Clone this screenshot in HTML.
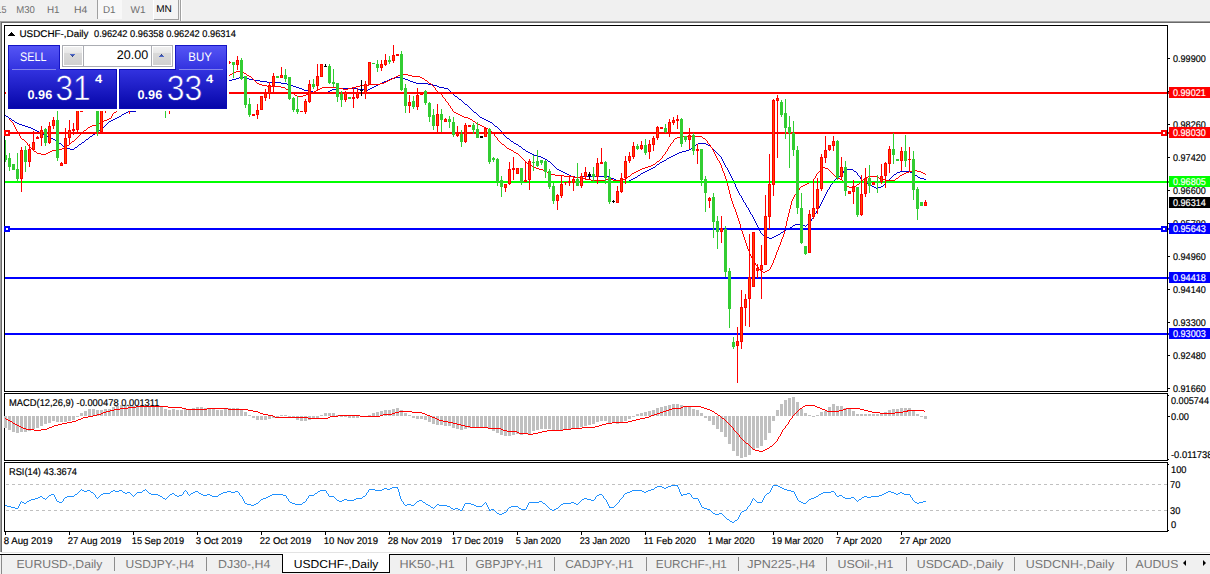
<!DOCTYPE html>
<html><head><meta charset="utf-8"><title>USDCHF-,Daily</title>
<style>
html,body{margin:0;padding:0;background:#fff;}
body{width:1210px;height:574px;position:relative;overflow:hidden;font-family:"Liberation Sans", sans-serif;}
svg{position:absolute;left:0;top:0;}
svg text{font-family:"Liberation Sans", sans-serif;text-rendering:geometricPrecision;}
#chart rect,#chart polyline,#chart line,#chart path{shape-rendering:crispEdges;}
.abs{position:absolute;}
#tb{left:0;top:0;width:1210px;height:21px;background:#f0f0f0;}
#tb span{position:absolute;top:3px;font-size:10px;line-height:12px;color:#6a6a6a;white-space:pre;}
.ocp{position:absolute;color:#fff;}
.grad{background:linear-gradient(#5858f8 0px,#0000a6 64px);}
</style></head><body>
<!-- toolbar -->
<div id="tb" class="abs">
<svg width="1210" height="21" viewBox="0 0 1210 21">
<g font-size="10" fill="#6e6e6e">
<text x="-3.5" y="13" textLength="10" lengthAdjust="spacingAndGlyphs">15</text>
<text x="16.3" y="13" textLength="18.6" lengthAdjust="spacingAndGlyphs">M30</text>
<text x="47" y="13" textLength="12.6" lengthAdjust="spacingAndGlyphs">H1</text>
<text x="74" y="13" textLength="13.4" lengthAdjust="spacingAndGlyphs">H4</text>
<text x="103" y="13" textLength="12.6" lengthAdjust="spacingAndGlyphs">D1</text>
<text x="130.6" y="13" textLength="15" lengthAdjust="spacingAndGlyphs">W1</text>
</g>
<rect x="97" y="0" width="1" height="19" fill="#a0a0a0" shape-rendering="crispEdges"/>
<rect x="98" y="0" width="24" height="19" fill="#f8f8f8" shape-rendering="crispEdges"/>
<text x="103" y="13" font-size="10" fill="#6e6e6e" textLength="12.6" lengthAdjust="spacingAndGlyphs">D1</text>
<rect x="153" y="0" width="26" height="20" fill="#f4f4f4" shape-rendering="crispEdges"/>
<rect x="153" y="0" width="1" height="19" fill="#ffffff" shape-rendering="crispEdges"/>
<rect x="178" y="0" width="1" height="20" fill="#a0a0a0" shape-rendering="crispEdges"/>
<rect x="154" y="19" width="25" height="1" fill="#a0a0a0" shape-rendering="crispEdges"/>
<text x="156.2" y="12" font-size="10" fill="#000" textLength="15.6" lengthAdjust="spacingAndGlyphs">MN</text>
<rect x="180" y="0" width="1" height="21" fill="#a0a0a0" shape-rendering="crispEdges"/>
<rect x="181" y="0" width="1" height="21" fill="#ffffff" shape-rendering="crispEdges"/>
</svg>
</div>
<!-- mdi client sunken edge -->
<div class="abs" style="left:0;top:21px;width:1210px;height:1px;background:#a0a0a0"></div>
<div class="abs" style="left:1px;top:22px;width:1209px;height:1px;background:#696969"></div>
<div class="abs" style="left:0;top:21px;width:1px;height:531px;background:#a0a0a0"></div>
<div class="abs" style="left:1px;top:22px;width:1px;height:530px;background:#696969"></div>
<div class="abs" style="left:1px;top:552px;width:1209px;height:1px;background:#e3e3e3"></div>
<!-- chart -->
<svg id="chart" width="1210" height="574" viewBox="0 0 1210 574">
<path d="M239 77.5h5M395 77.5h8M236 78.5h3M244 78.5h5M391 78.5h4M403 78.5h2M232 79.5h4M249 79.5h5M389 79.5h2M405 79.5h3M227 80.5h5M254 80.5h6M387 80.5h2M408 80.5h2M223 81.5h4M260 81.5h7M384 81.5h3M410 81.5h3M219 82.5h4M267 82.5h14M382 82.5h2M413 82.5h3M215 83.5h4M281 83.5h6M380 83.5h2M416 83.5h12M212 84.5h3M287 84.5h4M378 84.5h2M428 84.5h5M209 85.5h3M291 85.5h2M376 85.5h2M433 85.5h4M205 86.5h4M293 86.5h3M374 86.5h2M437 86.5h2M202 87.5h3M296 87.5h3M372 87.5h2M439 87.5h5M199 88.5h3M299 88.5h3M336 88.5h22M370 88.5h2M444 88.5h4M195 89.5h4M302 89.5h2M332 89.5h4M358 89.5h6M368 89.5h2M448 89.5h1M192 90.5h3M304 90.5h4M330 90.5h2M364 90.5h4M449 90.5h1M189 91.5h3M308 91.5h5M328 91.5h2M450 91.5h1M185 92.5h4M313 92.5h15M451 92.5h1M182 93.5h3M452 93.5h1M179 94.5h3M453 94.5h1M175 95.5h4M454 95.5h1M172 96.5h3M455 96.5h2M169 97.5h3M457 97.5h1M165 98.5h4M458 98.5h1M162 99.5h3M459 99.5h2M159 100.5h3M461 100.5h1M157 101.5h2M462 101.5h1M155 102.5h2M463 102.5h1M152 103.5h3M464 103.5h1M150 104.5h2M465 104.5h2M147 105.5h3M467 105.5h1M145 106.5h2M468 106.5h1M143 107.5h2M469 107.5h1M140 108.5h3M470 108.5h1M138 109.5h2M471 109.5h1M136 110.5h2M472 110.5h1M128 111.5h8M473 111.5h1M126 112.5h2M474 112.5h2M124 113.5h2M476 113.5h1M122 114.5h2M477 114.5h1M5 115.5h1M121 115.5h1M478 115.5h1M6 116.5h2M119 116.5h2M479 116.5h1M8 117.5h1M117 117.5h2M480 117.5h2M9 118.5h2M115 118.5h2M482 118.5h2M11 119.5h1M113 119.5h2M484 119.5h2M12 120.5h2M111 120.5h2M486 120.5h2M14 121.5h1M109 121.5h2M488 121.5h2M15 122.5h2M108 122.5h1M490 122.5h2M17 123.5h2M107 123.5h1M492 123.5h1M19 124.5h3M106 124.5h1M493 124.5h1M22 125.5h3M105 125.5h1M494 125.5h1M25 126.5h3M104 126.5h1M495 126.5h2M28 127.5h3M103 127.5h1M497 127.5h1M31 128.5h2M102 128.5h1M498 128.5h1M33 129.5h2M100 129.5h2M499 129.5h1M35 130.5h2M99 130.5h1M500 130.5h1M37 131.5h2M97 131.5h2M501 131.5h1M39 132.5h2M96 132.5h1M502 132.5h1M41 133.5h2M95 133.5h1M503 133.5h1M43 134.5h2M93 134.5h2M503 134.5h1M45 135.5h2M92 135.5h1M504 135.5h1M47 136.5h2M90 136.5h2M505 136.5h1M49 137.5h2M89 137.5h1M506 137.5h1M51 138.5h2M88 138.5h1M507 138.5h2M53 139.5h2M86 139.5h2M509 139.5h1M55 140.5h2M85 140.5h1M510 140.5h1M57 141.5h1M84 141.5h1M511 141.5h2M58 142.5h1M82 142.5h2M513 142.5h1M59 143.5h2M81 143.5h1M514 143.5h2M698 143.5h8M61 144.5h1M79 144.5h2M516 144.5h2M696 144.5h2M706 144.5h2M62 145.5h1M78 145.5h1M518 145.5h1M694 145.5h2M708 145.5h2M63 146.5h2M77 146.5h1M519 146.5h2M693 146.5h1M710 146.5h1M65 147.5h1M75 147.5h2M521 147.5h1M692 147.5h1M711 147.5h1M66 148.5h4M74 148.5h1M522 148.5h1M691 148.5h1M712 148.5h1M70 149.5h4M523 149.5h2M689 149.5h2M713 149.5h1M525 150.5h1M686 150.5h3M714 150.5h1M526 151.5h2M682 151.5h4M715 151.5h1M528 152.5h2M679 152.5h3M716 152.5h1M530 153.5h2M677 153.5h2M717 153.5h1M532 154.5h2M675 154.5h2M718 154.5h1M534 155.5h4M673 155.5h2M719 155.5h1M538 156.5h3M671 156.5h2M720 156.5h1M541 157.5h2M669 157.5h2M721 157.5h1M543 158.5h2M667 158.5h2M721 158.5h1M545 159.5h2M666 159.5h1M722 159.5h1M547 160.5h1M664 160.5h2M722 160.5h1M548 161.5h2M662 161.5h2M723 161.5h1M550 162.5h1M660 162.5h2M723 162.5h1M551 163.5h1M659 163.5h1M724 163.5h1M552 164.5h1M657 164.5h2M724 164.5h1M553 165.5h1M656 165.5h1M725 165.5h1M554 166.5h1M655 166.5h1M725 166.5h1M555 167.5h1M653 167.5h2M726 167.5h1M556 168.5h1M651 168.5h2M727 168.5h1M557 169.5h2M649 169.5h2M727 169.5h1M845 169.5h8M559 170.5h2M647 170.5h2M728 170.5h1M844 170.5h1M853 170.5h1M561 171.5h2M645 171.5h2M728 171.5h1M843 171.5h1M854 171.5h2M900 171.5h10M563 172.5h2M643 172.5h2M729 172.5h1M843 172.5h1M856 172.5h1M897 172.5h3M910 172.5h2M565 173.5h2M641 173.5h2M729 173.5h1M842 173.5h1M857 173.5h1M896 173.5h1M912 173.5h2M567 174.5h2M640 174.5h1M730 174.5h1M841 174.5h1M857 174.5h1M894 174.5h2M914 174.5h1M569 175.5h2M638 175.5h2M730 175.5h1M840 175.5h1M858 175.5h1M893 175.5h1M915 175.5h2M571 176.5h4M581 176.5h28M637 176.5h1M731 176.5h1M839 176.5h1M859 176.5h1M892 176.5h1M917 176.5h1M575 177.5h6M609 177.5h2M635 177.5h2M731 177.5h1M837 177.5h2M860 177.5h1M891 177.5h1M918 177.5h2M611 178.5h3M633 178.5h2M732 178.5h1M836 178.5h1M860 178.5h1M890 178.5h1M920 178.5h4M614 179.5h2M631 179.5h2M732 179.5h1M835 179.5h1M861 179.5h1M889 179.5h1M924 179.5h2M616 180.5h4M629 180.5h2M733 180.5h1M834 180.5h1M862 180.5h1M888 180.5h1M620 181.5h9M733 181.5h1M833 181.5h1M863 181.5h2M887 181.5h1M734 182.5h1M833 182.5h1M865 182.5h1M886 182.5h1M734 183.5h1M832 183.5h1M866 183.5h2M885 183.5h1M735 184.5h1M831 184.5h1M868 184.5h2M884 184.5h1M735 185.5h1M830 185.5h1M870 185.5h2M883 185.5h1M735 186.5h1M830 186.5h1M872 186.5h2M881 186.5h2M736 187.5h1M829 187.5h1M874 187.5h2M878 187.5h3M736 188.5h1M829 188.5h1M876 188.5h2M737 189.5h1M828 189.5h1M737 190.5h1M827 190.5h1M738 191.5h1M827 191.5h1M738 192.5h1M826 192.5h1M739 193.5h1M826 193.5h1M739 194.5h1M825 194.5h1M740 195.5h1M825 195.5h1M741 196.5h1M824 196.5h1M741 197.5h1M824 197.5h1M742 198.5h1M823 198.5h1M742 199.5h1M823 199.5h1M743 200.5h1M822 200.5h1M743 201.5h1M822 201.5h1M744 202.5h1M821 202.5h1M745 203.5h1M821 203.5h1M745 204.5h1M820 204.5h1M746 205.5h1M820 205.5h1M746 206.5h1M819 206.5h1M747 207.5h1M819 207.5h1M748 208.5h1M818 208.5h1M748 209.5h1M817 209.5h1M749 210.5h1M817 210.5h1M749 211.5h1M816 211.5h1M750 212.5h1M816 212.5h1M750 213.5h1M815 213.5h1M751 214.5h1M814 214.5h1M752 215.5h1M814 215.5h1M752 216.5h1M813 216.5h1M753 217.5h1M813 217.5h1M753 218.5h1M812 218.5h1M754 219.5h1M811 219.5h1M754 220.5h1M811 220.5h1M755 221.5h1M810 221.5h1M755 222.5h1M809 222.5h1M756 223.5h1M808 223.5h1M756 224.5h1M795 224.5h8M807 224.5h1M757 225.5h1M793 225.5h2M803 225.5h2M806 225.5h1M757 226.5h1M792 226.5h1M805 226.5h1M758 227.5h1M790 227.5h2M758 228.5h1M788 228.5h2M759 229.5h1M786 229.5h2M759 230.5h1M785 230.5h1M760 231.5h1M783 231.5h2M760 232.5h1M781 232.5h2M761 233.5h1M780 233.5h1M762 234.5h1M778 234.5h2M763 235.5h2M776 235.5h2M765 236.5h2M774 236.5h2M767 237.5h2M772 237.5h2M769 238.5h3" fill="none" stroke="#0000cd" stroke-width="1"/>
<path d="M236 71.5h6M234 72.5h2M242 72.5h2M232 73.5h2M244 73.5h2M230 74.5h2M246 74.5h1M400 74.5h8M225 75.5h5M247 75.5h2M398 75.5h2M408 75.5h4M215 76.5h10M249 76.5h2M396 76.5h2M412 76.5h8M205 77.5h10M251 77.5h1M394 77.5h2M420 77.5h2M198 78.5h7M252 78.5h1M392 78.5h2M422 78.5h2M194 79.5h4M253 79.5h1M390 79.5h2M424 79.5h1M190 80.5h4M254 80.5h1M388 80.5h2M425 80.5h2M185 81.5h5M255 81.5h1M386 81.5h2M427 81.5h1M181 82.5h4M256 82.5h1M384 82.5h2M428 82.5h1M177 83.5h4M257 83.5h2M380 83.5h4M429 83.5h2M173 84.5h4M259 84.5h3M369 84.5h11M431 84.5h1M169 85.5h4M262 85.5h5M360 85.5h9M432 85.5h1M166 86.5h3M267 86.5h14M356 86.5h4M433 86.5h1M163 87.5h3M281 87.5h4M322 87.5h17M352 87.5h4M434 87.5h1M160 88.5h3M285 88.5h1M320 88.5h2M339 88.5h4M348 88.5h4M435 88.5h1M157 89.5h3M286 89.5h2M318 89.5h2M343 89.5h5M435 89.5h1M154 90.5h3M288 90.5h1M316 90.5h2M436 90.5h1M151 91.5h3M289 91.5h1M314 91.5h2M437 91.5h1M148 92.5h3M290 92.5h2M311 92.5h3M438 92.5h1M145 93.5h3M292 93.5h2M309 93.5h2M439 93.5h2M142 94.5h3M294 94.5h1M306 94.5h3M441 94.5h1M140 95.5h2M295 95.5h2M303 95.5h3M442 95.5h1M138 96.5h2M297 96.5h6M442 96.5h1M136 97.5h2M443 97.5h1M135 98.5h1M444 98.5h1M133 99.5h2M445 99.5h1M131 100.5h2M445 100.5h1M130 101.5h1M446 101.5h1M128 102.5h2M447 102.5h1M126 103.5h2M448 103.5h1M125 104.5h1M448 104.5h1M123 105.5h2M449 105.5h1M121 106.5h2M450 106.5h1M120 107.5h1M450 107.5h1M119 108.5h1M451 108.5h1M118 109.5h1M452 109.5h1M117 110.5h1M452 110.5h1M116 111.5h1M453 111.5h1M114 112.5h2M454 112.5h2M113 113.5h1M456 113.5h2M112 114.5h1M458 114.5h2M112 115.5h1M460 115.5h2M111 116.5h1M462 116.5h2M111 117.5h1M464 117.5h4M109 118.5h2M468 118.5h2M9 119.5h1M107 119.5h2M470 119.5h2M10 120.5h1M104 120.5h3M472 120.5h1M11 121.5h1M102 121.5h2M473 121.5h2M12 122.5h1M100 122.5h2M475 122.5h1M13 123.5h1M98 123.5h2M476 123.5h2M13 124.5h1M96 124.5h2M478 124.5h2M14 125.5h1M92 125.5h4M480 125.5h2M14 126.5h1M90 126.5h2M482 126.5h2M15 127.5h1M88 127.5h2M484 127.5h2M15 128.5h1M87 128.5h1M486 128.5h2M16 129.5h1M86 129.5h1M488 129.5h1M16 130.5h1M84 130.5h2M489 130.5h1M17 131.5h1M83 131.5h1M490 131.5h2M18 132.5h1M82 132.5h1M492 132.5h1M18 133.5h1M81 133.5h1M493 133.5h1M19 134.5h1M80 134.5h1M494 134.5h1M19 135.5h1M79 135.5h1M494 135.5h1M20 136.5h1M78 136.5h1M495 136.5h1M681 136.5h21M20 137.5h1M77 137.5h1M496 137.5h1M677 137.5h4M702 137.5h1M21 138.5h1M76 138.5h1M497 138.5h1M675 138.5h2M703 138.5h2M22 139.5h2M75 139.5h1M497 139.5h1M674 139.5h1M705 139.5h1M24 140.5h1M74 140.5h1M498 140.5h1M673 140.5h1M706 140.5h1M25 141.5h1M72 141.5h2M499 141.5h1M673 141.5h1M707 141.5h1M26 142.5h1M71 142.5h1M500 142.5h1M672 142.5h1M707 142.5h1M27 143.5h1M70 143.5h1M501 143.5h1M671 143.5h1M708 143.5h1M27 144.5h1M69 144.5h1M502 144.5h2M670 144.5h1M709 144.5h1M28 145.5h1M67 145.5h2M504 145.5h1M670 145.5h1M710 145.5h1M29 146.5h1M65 146.5h2M505 146.5h1M669 146.5h1M710 146.5h1M30 147.5h1M64 147.5h1M506 147.5h1M668 147.5h1M711 147.5h1M31 148.5h1M62 148.5h2M507 148.5h2M668 148.5h1M712 148.5h1M32 149.5h1M57 149.5h5M509 149.5h2M667 149.5h1M712 149.5h1M33 150.5h1M52 150.5h5M511 150.5h2M667 150.5h1M713 150.5h1M34 151.5h2M50 151.5h2M513 151.5h1M666 151.5h1M713 151.5h1M36 152.5h1M48 152.5h2M514 152.5h2M665 152.5h1M714 152.5h1M37 153.5h4M46 153.5h2M516 153.5h2M665 153.5h1M714 153.5h1M41 154.5h5M518 154.5h1M664 154.5h1M715 154.5h1M519 155.5h1M663 155.5h1M715 155.5h1M520 156.5h1M662 156.5h1M716 156.5h1M521 157.5h1M662 157.5h1M716 157.5h1M522 158.5h1M661 158.5h1M717 158.5h1M523 159.5h1M660 159.5h1M717 159.5h1M524 160.5h1M659 160.5h1M718 160.5h1M525 161.5h1M657 161.5h2M719 161.5h1M526 162.5h1M656 162.5h1M719 162.5h1M527 163.5h2M655 163.5h1M720 163.5h1M529 164.5h1M653 164.5h2M720 164.5h1M530 165.5h2M651 165.5h2M721 165.5h1M532 166.5h2M648 166.5h3M721 166.5h1M534 167.5h2M645 167.5h3M721 167.5h1M823 167.5h2M536 168.5h3M642 168.5h3M722 168.5h1M822 168.5h1M825 168.5h3M539 169.5h4M640 169.5h2M722 169.5h1M821 169.5h1M828 169.5h1M543 170.5h2M638 170.5h2M722 170.5h1M820 170.5h1M829 170.5h1M912 170.5h5M545 171.5h2M636 171.5h2M723 171.5h1M819 171.5h1M830 171.5h1M909 171.5h3M917 171.5h4M547 172.5h2M634 172.5h2M723 172.5h1M818 172.5h1M831 172.5h1M906 172.5h3M921 172.5h2M549 173.5h2M632 173.5h2M724 173.5h1M817 173.5h1M832 173.5h1M904 173.5h2M923 173.5h2M551 174.5h4M631 174.5h1M724 174.5h1M816 174.5h1M833 174.5h1M902 174.5h2M925 174.5h1M555 175.5h9M630 175.5h1M724 175.5h1M816 175.5h1M834 175.5h1M900 175.5h2M564 176.5h9M628 176.5h2M725 176.5h1M815 176.5h1M835 176.5h1M868 176.5h9M899 176.5h1M573 177.5h7M627 177.5h1M725 177.5h1M815 177.5h1M836 177.5h2M865 177.5h3M877 177.5h2M898 177.5h1M580 178.5h5M625 178.5h2M725 178.5h1M814 178.5h1M838 178.5h2M864 178.5h1M879 178.5h2M896 178.5h2M585 179.5h6M605 179.5h8M623 179.5h2M726 179.5h1M813 179.5h1M840 179.5h2M863 179.5h1M881 179.5h4M895 179.5h1M591 180.5h14M613 180.5h10M726 180.5h1M813 180.5h1M842 180.5h1M862 180.5h1M885 180.5h10M726 181.5h1M811 181.5h2M843 181.5h1M861 181.5h1M727 182.5h1M809 182.5h2M843 182.5h1M860 182.5h1M727 183.5h1M807 183.5h2M844 183.5h1M859 183.5h1M727 184.5h1M805 184.5h2M845 184.5h1M857 184.5h2M727 185.5h1M803 185.5h2M846 185.5h1M856 185.5h1M728 186.5h1M801 186.5h2M847 186.5h2M852 186.5h4M728 187.5h1M800 187.5h1M849 187.5h3M728 188.5h1M799 188.5h1M728 189.5h1M799 189.5h1M729 190.5h1M798 190.5h1M729 191.5h1M797 191.5h1M729 192.5h1M796 192.5h1M729 193.5h1M796 193.5h1M730 194.5h1M795 194.5h1M730 195.5h1M794 195.5h1M730 196.5h1M794 196.5h1M730 197.5h1M793 197.5h1M731 198.5h1M793 198.5h1M731 199.5h1M792 199.5h1M731 200.5h1M792 200.5h1M732 201.5h1M791 201.5h1M732 202.5h1M791 202.5h1M732 203.5h1M791 203.5h1M733 204.5h1M791 204.5h1M733 205.5h1M790 205.5h1M733 206.5h1M790 206.5h1M734 207.5h1M790 207.5h1M734 208.5h1M790 208.5h1M735 209.5h1M789 209.5h1M735 210.5h1M789 210.5h1M735 211.5h1M789 211.5h1M736 212.5h1M789 212.5h1M736 213.5h1M788 213.5h1M736 214.5h1M788 214.5h1M737 215.5h1M788 215.5h1M737 216.5h1M788 216.5h1M737 217.5h1M787 217.5h1M738 218.5h1M787 218.5h1M738 219.5h1M787 219.5h1M738 220.5h1M787 220.5h1M739 221.5h1M786 221.5h1M739 222.5h1M786 222.5h1M739 223.5h1M786 223.5h1M740 224.5h1M786 224.5h1M740 225.5h1M786 225.5h1M740 226.5h1M785 226.5h1M740 227.5h1M785 227.5h1M741 228.5h1M785 228.5h1M741 229.5h1M785 229.5h1M741 230.5h1M784 230.5h1M742 231.5h1M784 231.5h1M742 232.5h1M784 232.5h1M742 233.5h1M784 233.5h1M743 234.5h1M783 234.5h1M743 235.5h1M783 235.5h1M743 236.5h1M783 236.5h1M744 237.5h1M782 237.5h1M744 238.5h1M782 238.5h1M744 239.5h1M781 239.5h1M745 240.5h1M781 240.5h1M745 241.5h1M781 241.5h1M745 242.5h1M780 242.5h1M746 243.5h1M780 243.5h1M746 244.5h1M780 244.5h1M746 245.5h1M779 245.5h1M747 246.5h1M779 246.5h1M747 247.5h1M778 247.5h1M747 248.5h1M778 248.5h1M748 249.5h1M778 249.5h1M748 250.5h1M777 250.5h1M749 251.5h1M777 251.5h1M749 252.5h1M776 252.5h1M749 253.5h1M776 253.5h1M750 254.5h1M776 254.5h1M750 255.5h1M775 255.5h1M751 256.5h1M775 256.5h1M751 257.5h1M775 257.5h1M752 258.5h1M774 258.5h1M752 259.5h1M774 259.5h1M753 260.5h1M773 260.5h1M754 261.5h1M773 261.5h1M754 262.5h1M773 262.5h1M755 263.5h1M772 263.5h1M755 264.5h1M772 264.5h1M756 265.5h1M771 265.5h1M757 266.5h1M771 266.5h1M758 267.5h1M770 267.5h1M758 268.5h1M770 268.5h1M759 269.5h1M769 269.5h1M760 270.5h1M767 270.5h2M761 271.5h2M765 271.5h2M763 272.5h2" fill="none" stroke="#ff0000" stroke-width="1"/>
<rect x="5" y="92" width="1164" height="2" fill="#ff0000"/>
<rect x="5" y="132" width="1164" height="2" fill="#ff0000"/>
<rect x="5" y="181" width="1164" height="2" fill="#00ff00"/>
<rect x="5" y="228" width="1164" height="2" fill="#0000ff"/>
<rect x="5" y="277" width="1164" height="2" fill="#0000ff"/>
<rect x="5" y="333" width="1164" height="2" fill="#0000ff"/>
<rect x="5" y="140" width="1" height="22" fill="#32cd32"/>
<rect x="4" y="155" width="3" height="5" fill="#32cd32"/>
<rect x="9" y="153" width="1" height="18" fill="#32cd32"/>
<rect x="8" y="158" width="3" height="9" fill="#32cd32"/>
<rect x="13" y="164" width="1" height="6" fill="#32cd32"/>
<rect x="12" y="164" width="3" height="6" fill="#32cd32"/>
<rect x="17" y="153" width="1" height="29" fill="#32cd32"/>
<rect x="16" y="169" width="3" height="10" fill="#32cd32"/>
<rect x="21" y="147" width="1" height="45" fill="#ff0000"/>
<rect x="20" y="150" width="3" height="29" fill="#ff0000"/>
<rect x="21" y="151" width="1" height="27" fill="#ff4500"/>
<rect x="25" y="146" width="1" height="26" fill="#32cd32"/>
<rect x="24" y="150" width="3" height="12" fill="#32cd32"/>
<rect x="29" y="144" width="1" height="23" fill="#ff0000"/>
<rect x="28" y="149" width="3" height="13" fill="#ff0000"/>
<rect x="29" y="150" width="1" height="11" fill="#ff4500"/>
<rect x="33" y="131" width="1" height="19" fill="#ff0000"/>
<rect x="32" y="142" width="3" height="8" fill="#ff0000"/>
<rect x="33" y="143" width="1" height="6" fill="#ff4500"/>
<rect x="37" y="136" width="1" height="3" fill="#ff0000"/>
<rect x="36" y="137" width="3" height="2" fill="#ff0000"/>
<rect x="41" y="126" width="1" height="20" fill="#ff0000"/>
<rect x="40" y="130" width="3" height="8" fill="#ff0000"/>
<rect x="41" y="131" width="1" height="6" fill="#ff4500"/>
<rect x="45" y="128" width="1" height="18" fill="#32cd32"/>
<rect x="44" y="129" width="3" height="14" fill="#32cd32"/>
<rect x="49" y="122" width="1" height="22" fill="#ff0000"/>
<rect x="48" y="126" width="3" height="17" fill="#ff0000"/>
<rect x="49" y="127" width="1" height="15" fill="#ff4500"/>
<rect x="53" y="117" width="1" height="12" fill="#ff0000"/>
<rect x="52" y="120" width="3" height="6" fill="#ff0000"/>
<rect x="53" y="121" width="1" height="4" fill="#ff4500"/>
<rect x="57" y="111" width="1" height="50" fill="#32cd32"/>
<rect x="56" y="120" width="3" height="38" fill="#32cd32"/>
<rect x="61" y="162" width="1" height="4" fill="#ff0000"/>
<rect x="60" y="163" width="3" height="3" fill="#ff0000"/>
<rect x="61" y="164" width="1" height="1" fill="#ff4500"/>
<rect x="65" y="128" width="1" height="36" fill="#ff0000"/>
<rect x="64" y="138" width="3" height="26" fill="#ff0000"/>
<rect x="65" y="139" width="1" height="24" fill="#ff4500"/>
<rect x="69" y="120" width="1" height="24" fill="#ff0000"/>
<rect x="68" y="130" width="3" height="8" fill="#ff0000"/>
<rect x="69" y="131" width="1" height="6" fill="#ff4500"/>
<rect x="73" y="123" width="1" height="12" fill="#ff0000"/>
<rect x="72" y="129" width="3" height="2" fill="#ff0000"/>
<rect x="77" y="100" width="1" height="34" fill="#ff0000"/>
<rect x="76" y="100" width="3" height="30" fill="#ff0000"/>
<rect x="77" y="101" width="1" height="28" fill="#ff4500"/>
<rect x="81" y="100" width="1" height="12" fill="#ff0000"/>
<rect x="80" y="100" width="3" height="12" fill="#ff0000"/>
<rect x="81" y="101" width="1" height="10" fill="#ff4500"/>
<rect x="97" y="100" width="1" height="36" fill="#32cd32"/>
<rect x="96" y="100" width="3" height="32" fill="#32cd32"/>
<rect x="101" y="100" width="1" height="32" fill="#ff0000"/>
<rect x="100" y="100" width="3" height="32" fill="#ff0000"/>
<rect x="101" y="101" width="1" height="30" fill="#ff4500"/>
<rect x="105" y="100" width="1" height="13" fill="#ff0000"/>
<rect x="104" y="100" width="3" height="8" fill="#ff0000"/>
<rect x="105" y="101" width="1" height="6" fill="#ff4500"/>
<rect x="129" y="100" width="1" height="14" fill="#ff0000"/>
<rect x="128" y="100" width="3" height="8" fill="#ff0000"/>
<rect x="129" y="101" width="1" height="6" fill="#ff4500"/>
<rect x="165" y="100" width="1" height="18" fill="#32cd32"/>
<rect x="164" y="100" width="3" height="8" fill="#32cd32"/>
<rect x="169" y="100" width="1" height="14" fill="#ff0000"/>
<rect x="168" y="100" width="3" height="8" fill="#ff0000"/>
<rect x="169" y="101" width="1" height="6" fill="#ff4500"/>
<rect x="229" y="61" width="1" height="3" fill="#ff0000"/>
<rect x="230" y="62" width="1" height="1" fill="#ff0000"/>
<rect x="233" y="62" width="1" height="16" fill="#32cd32"/>
<rect x="232" y="62" width="3" height="3" fill="#32cd32"/>
<rect x="237" y="56" width="1" height="14" fill="#ff0000"/>
<rect x="236" y="60" width="3" height="5" fill="#ff0000"/>
<rect x="237" y="61" width="1" height="3" fill="#ff4500"/>
<rect x="241" y="58" width="1" height="22" fill="#32cd32"/>
<rect x="240" y="60" width="3" height="19" fill="#32cd32"/>
<rect x="245" y="76" width="1" height="32" fill="#32cd32"/>
<rect x="244" y="76" width="3" height="29" fill="#32cd32"/>
<rect x="249" y="98" width="1" height="19" fill="#32cd32"/>
<rect x="248" y="104" width="3" height="11" fill="#32cd32"/>
<rect x="253" y="114" width="1" height="2" fill="#ff0000"/>
<rect x="252" y="114" width="3" height="2" fill="#ff0000"/>
<rect x="257" y="104" width="1" height="15" fill="#ff0000"/>
<rect x="256" y="110" width="3" height="5" fill="#ff0000"/>
<rect x="257" y="111" width="1" height="3" fill="#ff4500"/>
<rect x="261" y="96" width="1" height="14" fill="#ff0000"/>
<rect x="260" y="96" width="3" height="14" fill="#ff0000"/>
<rect x="261" y="97" width="1" height="12" fill="#ff4500"/>
<rect x="265" y="89" width="1" height="12" fill="#ff0000"/>
<rect x="264" y="93" width="3" height="5" fill="#ff0000"/>
<rect x="265" y="94" width="1" height="3" fill="#ff4500"/>
<rect x="269" y="82" width="1" height="17" fill="#ff0000"/>
<rect x="268" y="85" width="3" height="9" fill="#ff0000"/>
<rect x="269" y="86" width="1" height="7" fill="#ff4500"/>
<rect x="273" y="73" width="1" height="21" fill="#ff0000"/>
<rect x="272" y="76" width="3" height="10" fill="#ff0000"/>
<rect x="273" y="77" width="1" height="8" fill="#ff4500"/>
<rect x="277" y="76" width="1" height="2" fill="#32cd32"/>
<rect x="276" y="76" width="3" height="2" fill="#32cd32"/>
<rect x="281" y="67" width="1" height="11" fill="#ff0000"/>
<rect x="280" y="75" width="3" height="3" fill="#ff0000"/>
<rect x="281" y="76" width="1" height="1" fill="#ff4500"/>
<rect x="285" y="69" width="1" height="13" fill="#32cd32"/>
<rect x="284" y="75" width="3" height="4" fill="#32cd32"/>
<rect x="289" y="77" width="1" height="23" fill="#32cd32"/>
<rect x="288" y="77" width="3" height="22" fill="#32cd32"/>
<rect x="293" y="97" width="1" height="15" fill="#32cd32"/>
<rect x="292" y="98" width="3" height="12" fill="#32cd32"/>
<rect x="297" y="96" width="1" height="18" fill="#32cd32"/>
<rect x="296" y="109" width="3" height="3" fill="#32cd32"/>
<rect x="301" y="111" width="1" height="1" fill="#ff0000"/>
<rect x="300" y="111" width="3" height="1" fill="#ff0000"/>
<rect x="305" y="99" width="1" height="15" fill="#ff0000"/>
<rect x="304" y="101" width="3" height="11" fill="#ff0000"/>
<rect x="305" y="102" width="1" height="9" fill="#ff4500"/>
<rect x="309" y="80" width="1" height="23" fill="#ff0000"/>
<rect x="308" y="84" width="3" height="18" fill="#ff0000"/>
<rect x="309" y="85" width="1" height="16" fill="#ff4500"/>
<rect x="313" y="79" width="1" height="10" fill="#32cd32"/>
<rect x="312" y="84" width="3" height="3" fill="#32cd32"/>
<rect x="317" y="64" width="1" height="26" fill="#ff0000"/>
<rect x="316" y="76" width="3" height="10" fill="#ff0000"/>
<rect x="317" y="77" width="1" height="8" fill="#ff4500"/>
<rect x="321" y="64" width="1" height="13" fill="#ff0000"/>
<rect x="320" y="64" width="3" height="13" fill="#ff0000"/>
<rect x="321" y="65" width="1" height="11" fill="#ff4500"/>
<rect x="325" y="64" width="1" height="2" fill="#000000"/>
<rect x="324" y="66" width="3" height="1" fill="#000000"/>
<rect x="329" y="64" width="1" height="20" fill="#32cd32"/>
<rect x="328" y="66" width="3" height="17" fill="#32cd32"/>
<rect x="333" y="69" width="1" height="18" fill="#32cd32"/>
<rect x="332" y="82" width="3" height="2" fill="#32cd32"/>
<rect x="337" y="83" width="1" height="19" fill="#32cd32"/>
<rect x="336" y="83" width="3" height="14" fill="#32cd32"/>
<rect x="341" y="91" width="1" height="16" fill="#32cd32"/>
<rect x="340" y="94" width="3" height="6" fill="#32cd32"/>
<rect x="345" y="91" width="1" height="11" fill="#ff0000"/>
<rect x="344" y="92" width="3" height="8" fill="#ff0000"/>
<rect x="345" y="93" width="1" height="6" fill="#ff4500"/>
<rect x="349" y="97" width="1" height="2" fill="#32cd32"/>
<rect x="348" y="97" width="3" height="2" fill="#32cd32"/>
<rect x="353" y="88" width="1" height="20" fill="#ff0000"/>
<rect x="352" y="97" width="3" height="2" fill="#ff0000"/>
<rect x="357" y="88" width="1" height="11" fill="#ff0000"/>
<rect x="356" y="92" width="3" height="6" fill="#ff0000"/>
<rect x="357" y="93" width="1" height="4" fill="#ff4500"/>
<rect x="361" y="80" width="1" height="16" fill="#000000"/>
<rect x="360" y="90" width="3" height="1" fill="#000000"/>
<rect x="365" y="81" width="1" height="18" fill="#ff0000"/>
<rect x="364" y="84" width="3" height="10" fill="#ff0000"/>
<rect x="365" y="85" width="1" height="8" fill="#ff4500"/>
<rect x="369" y="62" width="1" height="23" fill="#ff0000"/>
<rect x="368" y="62" width="3" height="23" fill="#ff0000"/>
<rect x="369" y="63" width="1" height="21" fill="#ff4500"/>
<rect x="373" y="63" width="1" height="1" fill="#32cd32"/>
<rect x="372" y="63" width="3" height="1" fill="#32cd32"/>
<rect x="377" y="60" width="1" height="12" fill="#32cd32"/>
<rect x="376" y="64" width="3" height="4" fill="#32cd32"/>
<rect x="381" y="60" width="1" height="11" fill="#ff0000"/>
<rect x="380" y="64" width="3" height="4" fill="#ff0000"/>
<rect x="381" y="65" width="1" height="2" fill="#ff4500"/>
<rect x="385" y="54" width="1" height="12" fill="#ff0000"/>
<rect x="384" y="60" width="3" height="5" fill="#ff0000"/>
<rect x="385" y="61" width="1" height="3" fill="#ff4500"/>
<rect x="389" y="56" width="1" height="8" fill="#32cd32"/>
<rect x="388" y="60" width="3" height="2" fill="#32cd32"/>
<rect x="393" y="45" width="1" height="18" fill="#ff0000"/>
<rect x="392" y="55" width="3" height="6" fill="#ff0000"/>
<rect x="393" y="56" width="1" height="4" fill="#ff4500"/>
<rect x="397" y="54" width="1" height="2" fill="#ff0000"/>
<rect x="396" y="54" width="3" height="2" fill="#ff0000"/>
<rect x="401" y="51" width="1" height="40" fill="#32cd32"/>
<rect x="400" y="54" width="3" height="36" fill="#32cd32"/>
<rect x="405" y="84" width="1" height="29" fill="#32cd32"/>
<rect x="404" y="88" width="3" height="18" fill="#32cd32"/>
<rect x="409" y="95" width="1" height="18" fill="#ff0000"/>
<rect x="408" y="102" width="3" height="4" fill="#ff0000"/>
<rect x="409" y="103" width="1" height="2" fill="#ff4500"/>
<rect x="413" y="96" width="1" height="13" fill="#32cd32"/>
<rect x="412" y="101" width="3" height="6" fill="#32cd32"/>
<rect x="417" y="88" width="1" height="22" fill="#ff0000"/>
<rect x="416" y="95" width="3" height="12" fill="#ff0000"/>
<rect x="417" y="96" width="1" height="10" fill="#ff4500"/>
<rect x="421" y="93" width="1" height="2" fill="#ff0000"/>
<rect x="420" y="93" width="3" height="2" fill="#ff0000"/>
<rect x="425" y="90" width="1" height="15" fill="#32cd32"/>
<rect x="424" y="91" width="3" height="12" fill="#32cd32"/>
<rect x="429" y="102" width="1" height="20" fill="#32cd32"/>
<rect x="428" y="103" width="3" height="14" fill="#32cd32"/>
<rect x="433" y="109" width="1" height="21" fill="#32cd32"/>
<rect x="432" y="115" width="3" height="11" fill="#32cd32"/>
<rect x="437" y="104" width="1" height="28" fill="#ff0000"/>
<rect x="436" y="114" width="3" height="12" fill="#ff0000"/>
<rect x="437" y="115" width="1" height="10" fill="#ff4500"/>
<rect x="441" y="109" width="1" height="23" fill="#32cd32"/>
<rect x="440" y="114" width="3" height="6" fill="#32cd32"/>
<rect x="445" y="118" width="1" height="4" fill="#ff0000"/>
<rect x="444" y="119" width="3" height="3" fill="#ff0000"/>
<rect x="445" y="120" width="1" height="1" fill="#ff4500"/>
<rect x="449" y="116" width="1" height="12" fill="#32cd32"/>
<rect x="448" y="119" width="3" height="3" fill="#32cd32"/>
<rect x="453" y="117" width="1" height="20" fill="#32cd32"/>
<rect x="452" y="122" width="3" height="13" fill="#32cd32"/>
<rect x="457" y="126" width="1" height="11" fill="#ff0000"/>
<rect x="456" y="133" width="3" height="3" fill="#ff0000"/>
<rect x="457" y="134" width="1" height="1" fill="#ff4500"/>
<rect x="461" y="130" width="1" height="17" fill="#32cd32"/>
<rect x="460" y="134" width="3" height="8" fill="#32cd32"/>
<rect x="465" y="123" width="1" height="20" fill="#ff0000"/>
<rect x="464" y="125" width="3" height="17" fill="#ff0000"/>
<rect x="465" y="126" width="1" height="15" fill="#ff4500"/>
<rect x="469" y="125" width="1" height="2" fill="#ff0000"/>
<rect x="468" y="125" width="3" height="2" fill="#ff0000"/>
<rect x="473" y="123" width="1" height="11" fill="#32cd32"/>
<rect x="472" y="125" width="3" height="5" fill="#32cd32"/>
<rect x="477" y="122" width="1" height="16" fill="#32cd32"/>
<rect x="476" y="129" width="3" height="9" fill="#32cd32"/>
<rect x="481" y="136" width="1" height="2" fill="#000000"/>
<rect x="480" y="136" width="3" height="2" fill="#000000"/>
<rect x="485" y="127" width="1" height="10" fill="#ff0000"/>
<rect x="484" y="128" width="3" height="9" fill="#ff0000"/>
<rect x="485" y="129" width="1" height="7" fill="#ff4500"/>
<rect x="489" y="128" width="1" height="36" fill="#32cd32"/>
<rect x="488" y="129" width="3" height="33" fill="#32cd32"/>
<rect x="493" y="157" width="1" height="5" fill="#32cd32"/>
<rect x="492" y="158" width="3" height="2" fill="#32cd32"/>
<rect x="497" y="158" width="1" height="28" fill="#32cd32"/>
<rect x="496" y="159" width="3" height="23" fill="#32cd32"/>
<rect x="501" y="176" width="1" height="21" fill="#32cd32"/>
<rect x="500" y="180" width="3" height="7" fill="#32cd32"/>
<rect x="505" y="184" width="1" height="8" fill="#ff0000"/>
<rect x="504" y="184" width="3" height="4" fill="#ff0000"/>
<rect x="505" y="185" width="1" height="2" fill="#ff4500"/>
<rect x="509" y="162" width="1" height="23" fill="#ff0000"/>
<rect x="508" y="169" width="3" height="15" fill="#ff0000"/>
<rect x="509" y="170" width="1" height="13" fill="#ff4500"/>
<rect x="513" y="157" width="1" height="23" fill="#ff0000"/>
<rect x="512" y="168" width="3" height="2" fill="#ff0000"/>
<rect x="517" y="168" width="1" height="6" fill="#ff0000"/>
<rect x="516" y="168" width="3" height="6" fill="#ff0000"/>
<rect x="517" y="169" width="1" height="4" fill="#ff4500"/>
<rect x="521" y="168" width="1" height="17" fill="#32cd32"/>
<rect x="520" y="168" width="3" height="14" fill="#32cd32"/>
<rect x="525" y="162" width="1" height="20" fill="#ff0000"/>
<rect x="524" y="180" width="3" height="2" fill="#ff0000"/>
<rect x="529" y="159" width="1" height="31" fill="#ff0000"/>
<rect x="528" y="161" width="3" height="19" fill="#ff0000"/>
<rect x="529" y="162" width="1" height="17" fill="#ff4500"/>
<rect x="533" y="155" width="1" height="16" fill="#32cd32"/>
<rect x="532" y="162" width="3" height="1" fill="#32cd32"/>
<rect x="537" y="150" width="1" height="17" fill="#32cd32"/>
<rect x="536" y="161" width="3" height="5" fill="#32cd32"/>
<rect x="541" y="160" width="1" height="5" fill="#32cd32"/>
<rect x="540" y="160" width="3" height="3" fill="#32cd32"/>
<rect x="545" y="160" width="1" height="18" fill="#32cd32"/>
<rect x="544" y="161" width="3" height="11" fill="#32cd32"/>
<rect x="549" y="169" width="1" height="20" fill="#32cd32"/>
<rect x="548" y="171" width="3" height="16" fill="#32cd32"/>
<rect x="553" y="183" width="1" height="21" fill="#32cd32"/>
<rect x="552" y="186" width="3" height="15" fill="#32cd32"/>
<rect x="557" y="194" width="1" height="16" fill="#ff0000"/>
<rect x="556" y="195" width="3" height="6" fill="#ff0000"/>
<rect x="557" y="196" width="1" height="4" fill="#ff4500"/>
<rect x="561" y="175" width="1" height="23" fill="#ff0000"/>
<rect x="560" y="184" width="3" height="12" fill="#ff0000"/>
<rect x="561" y="185" width="1" height="10" fill="#ff4500"/>
<rect x="565" y="182" width="1" height="3" fill="#ff0000"/>
<rect x="564" y="182" width="3" height="1" fill="#ff0000"/>
<rect x="569" y="175" width="1" height="11" fill="#ff0000"/>
<rect x="568" y="181" width="3" height="2" fill="#ff0000"/>
<rect x="573" y="176" width="1" height="15" fill="#ff0000"/>
<rect x="572" y="179" width="3" height="4" fill="#ff0000"/>
<rect x="573" y="180" width="1" height="2" fill="#ff4500"/>
<rect x="577" y="163" width="1" height="23" fill="#32cd32"/>
<rect x="576" y="179" width="3" height="7" fill="#32cd32"/>
<rect x="581" y="173" width="1" height="15" fill="#ff0000"/>
<rect x="580" y="176" width="3" height="10" fill="#ff0000"/>
<rect x="581" y="177" width="1" height="8" fill="#ff4500"/>
<rect x="585" y="167" width="1" height="12" fill="#ff0000"/>
<rect x="584" y="172" width="3" height="5" fill="#ff0000"/>
<rect x="585" y="173" width="1" height="3" fill="#ff4500"/>
<rect x="589" y="172" width="1" height="7" fill="#000000"/>
<rect x="588" y="174" width="3" height="2" fill="#000000"/>
<rect x="593" y="167" width="1" height="15" fill="#32cd32"/>
<rect x="592" y="174" width="3" height="3" fill="#32cd32"/>
<rect x="597" y="158" width="1" height="26" fill="#ff0000"/>
<rect x="596" y="163" width="3" height="14" fill="#ff0000"/>
<rect x="597" y="164" width="1" height="12" fill="#ff4500"/>
<rect x="601" y="148" width="1" height="16" fill="#ff0000"/>
<rect x="600" y="162" width="3" height="2" fill="#ff0000"/>
<rect x="605" y="161" width="1" height="23" fill="#32cd32"/>
<rect x="604" y="162" width="3" height="16" fill="#32cd32"/>
<rect x="609" y="169" width="1" height="35" fill="#32cd32"/>
<rect x="608" y="177" width="3" height="25" fill="#32cd32"/>
<rect x="613" y="200" width="1" height="3" fill="#000000"/>
<rect x="612" y="201" width="3" height="1" fill="#000000"/>
<rect x="617" y="186" width="1" height="17" fill="#ff0000"/>
<rect x="616" y="191" width="3" height="12" fill="#ff0000"/>
<rect x="617" y="192" width="1" height="10" fill="#ff4500"/>
<rect x="621" y="173" width="1" height="20" fill="#ff0000"/>
<rect x="620" y="178" width="3" height="14" fill="#ff0000"/>
<rect x="621" y="179" width="1" height="12" fill="#ff4500"/>
<rect x="625" y="156" width="1" height="28" fill="#ff0000"/>
<rect x="624" y="161" width="3" height="17" fill="#ff0000"/>
<rect x="625" y="162" width="1" height="15" fill="#ff4500"/>
<rect x="629" y="152" width="1" height="11" fill="#ff0000"/>
<rect x="628" y="156" width="3" height="5" fill="#ff0000"/>
<rect x="629" y="157" width="1" height="3" fill="#ff4500"/>
<rect x="633" y="142" width="1" height="17" fill="#ff0000"/>
<rect x="632" y="146" width="3" height="11" fill="#ff0000"/>
<rect x="633" y="147" width="1" height="9" fill="#ff4500"/>
<rect x="637" y="144" width="1" height="6" fill="#32cd32"/>
<rect x="636" y="146" width="3" height="3" fill="#32cd32"/>
<rect x="641" y="141" width="1" height="9" fill="#ff0000"/>
<rect x="640" y="145" width="3" height="4" fill="#ff0000"/>
<rect x="641" y="146" width="1" height="2" fill="#ff4500"/>
<rect x="645" y="139" width="1" height="16" fill="#32cd32"/>
<rect x="644" y="145" width="3" height="8" fill="#32cd32"/>
<rect x="649" y="140" width="1" height="19" fill="#ff0000"/>
<rect x="648" y="144" width="3" height="8" fill="#ff0000"/>
<rect x="649" y="145" width="1" height="6" fill="#ff4500"/>
<rect x="653" y="136" width="1" height="15" fill="#ff0000"/>
<rect x="652" y="138" width="3" height="7" fill="#ff0000"/>
<rect x="653" y="139" width="1" height="5" fill="#ff4500"/>
<rect x="657" y="126" width="1" height="14" fill="#ff0000"/>
<rect x="656" y="127" width="3" height="11" fill="#ff0000"/>
<rect x="657" y="128" width="1" height="9" fill="#ff4500"/>
<rect x="661" y="127" width="1" height="2" fill="#ff0000"/>
<rect x="660" y="127" width="3" height="2" fill="#ff0000"/>
<rect x="665" y="124" width="1" height="9" fill="#32cd32"/>
<rect x="664" y="128" width="3" height="4" fill="#32cd32"/>
<rect x="669" y="119" width="1" height="18" fill="#ff0000"/>
<rect x="668" y="122" width="3" height="11" fill="#ff0000"/>
<rect x="669" y="123" width="1" height="9" fill="#ff4500"/>
<rect x="673" y="117" width="1" height="8" fill="#ff0000"/>
<rect x="672" y="120" width="3" height="3" fill="#ff0000"/>
<rect x="673" y="121" width="1" height="1" fill="#ff4500"/>
<rect x="677" y="115" width="1" height="14" fill="#ff0000"/>
<rect x="676" y="119" width="3" height="2" fill="#ff0000"/>
<rect x="681" y="118" width="1" height="29" fill="#32cd32"/>
<rect x="680" y="119" width="3" height="25" fill="#32cd32"/>
<rect x="685" y="136" width="1" height="6" fill="#32cd32"/>
<rect x="684" y="136" width="3" height="4" fill="#32cd32"/>
<rect x="689" y="128" width="1" height="21" fill="#ff0000"/>
<rect x="688" y="135" width="3" height="5" fill="#ff0000"/>
<rect x="689" y="136" width="1" height="3" fill="#ff4500"/>
<rect x="693" y="133" width="1" height="22" fill="#32cd32"/>
<rect x="692" y="135" width="3" height="16" fill="#32cd32"/>
<rect x="697" y="144" width="1" height="20" fill="#ff0000"/>
<rect x="696" y="149" width="3" height="2" fill="#ff0000"/>
<rect x="701" y="149" width="1" height="37" fill="#32cd32"/>
<rect x="700" y="149" width="3" height="31" fill="#32cd32"/>
<rect x="705" y="176" width="1" height="36" fill="#32cd32"/>
<rect x="704" y="179" width="3" height="14" fill="#32cd32"/>
<rect x="709" y="197" width="1" height="11" fill="#ff0000"/>
<rect x="708" y="198" width="3" height="3" fill="#ff0000"/>
<rect x="709" y="199" width="1" height="1" fill="#ff4500"/>
<rect x="713" y="193" width="1" height="45" fill="#32cd32"/>
<rect x="712" y="197" width="3" height="25" fill="#32cd32"/>
<rect x="717" y="216" width="1" height="33" fill="#32cd32"/>
<rect x="716" y="221" width="3" height="11" fill="#32cd32"/>
<rect x="721" y="216" width="1" height="27" fill="#ff0000"/>
<rect x="720" y="228" width="3" height="4" fill="#ff0000"/>
<rect x="721" y="229" width="1" height="2" fill="#ff4500"/>
<rect x="725" y="226" width="1" height="51" fill="#32cd32"/>
<rect x="724" y="229" width="3" height="43" fill="#32cd32"/>
<rect x="729" y="268" width="1" height="60" fill="#32cd32"/>
<rect x="728" y="271" width="3" height="38" fill="#32cd32"/>
<rect x="733" y="337" width="1" height="12" fill="#32cd32"/>
<rect x="732" y="342" width="3" height="5" fill="#32cd32"/>
<rect x="737" y="327" width="1" height="56" fill="#ff0000"/>
<rect x="736" y="341" width="3" height="5" fill="#ff0000"/>
<rect x="737" y="342" width="1" height="3" fill="#ff4500"/>
<rect x="741" y="290" width="1" height="59" fill="#ff0000"/>
<rect x="740" y="307" width="3" height="35" fill="#ff0000"/>
<rect x="741" y="308" width="1" height="33" fill="#ff4500"/>
<rect x="745" y="294" width="1" height="32" fill="#ff0000"/>
<rect x="744" y="299" width="3" height="9" fill="#ff0000"/>
<rect x="745" y="300" width="1" height="7" fill="#ff4500"/>
<rect x="749" y="234" width="1" height="93" fill="#ff0000"/>
<rect x="748" y="277" width="3" height="22" fill="#ff0000"/>
<rect x="749" y="278" width="1" height="20" fill="#ff4500"/>
<rect x="753" y="232" width="1" height="55" fill="#ff0000"/>
<rect x="752" y="232" width="3" height="55" fill="#ff0000"/>
<rect x="753" y="233" width="1" height="53" fill="#ff4500"/>
<rect x="757" y="264" width="1" height="14" fill="#ff0000"/>
<rect x="756" y="268" width="3" height="3" fill="#ff0000"/>
<rect x="757" y="269" width="1" height="1" fill="#ff4500"/>
<rect x="761" y="245" width="1" height="54" fill="#ff0000"/>
<rect x="760" y="265" width="3" height="5" fill="#ff0000"/>
<rect x="761" y="266" width="1" height="3" fill="#ff4500"/>
<rect x="765" y="195" width="1" height="70" fill="#ff0000"/>
<rect x="764" y="216" width="3" height="49" fill="#ff0000"/>
<rect x="765" y="217" width="1" height="47" fill="#ff4500"/>
<rect x="769" y="154" width="1" height="75" fill="#ff0000"/>
<rect x="768" y="184" width="3" height="33" fill="#ff0000"/>
<rect x="769" y="185" width="1" height="31" fill="#ff4500"/>
<rect x="773" y="99" width="1" height="97" fill="#ff0000"/>
<rect x="772" y="100" width="3" height="85" fill="#ff0000"/>
<rect x="773" y="101" width="1" height="83" fill="#ff4500"/>
<rect x="777" y="95" width="1" height="63" fill="#ff0000"/>
<rect x="776" y="98" width="3" height="3" fill="#ff0000"/>
<rect x="777" y="99" width="1" height="1" fill="#ff4500"/>
<rect x="781" y="100" width="1" height="17" fill="#32cd32"/>
<rect x="780" y="102" width="3" height="13" fill="#32cd32"/>
<rect x="785" y="99" width="1" height="40" fill="#32cd32"/>
<rect x="784" y="113" width="3" height="15" fill="#32cd32"/>
<rect x="789" y="116" width="1" height="52" fill="#32cd32"/>
<rect x="788" y="127" width="3" height="6" fill="#32cd32"/>
<rect x="793" y="121" width="1" height="35" fill="#32cd32"/>
<rect x="792" y="133" width="3" height="17" fill="#32cd32"/>
<rect x="797" y="146" width="1" height="68" fill="#32cd32"/>
<rect x="796" y="150" width="3" height="58" fill="#32cd32"/>
<rect x="801" y="193" width="1" height="51" fill="#32cd32"/>
<rect x="800" y="208" width="3" height="35" fill="#32cd32"/>
<rect x="805" y="246" width="1" height="9" fill="#32cd32"/>
<rect x="804" y="246" width="3" height="8" fill="#32cd32"/>
<rect x="809" y="210" width="1" height="43" fill="#ff0000"/>
<rect x="808" y="214" width="3" height="39" fill="#ff0000"/>
<rect x="809" y="215" width="1" height="37" fill="#ff4500"/>
<rect x="813" y="179" width="1" height="40" fill="#ff0000"/>
<rect x="812" y="208" width="3" height="9" fill="#ff0000"/>
<rect x="813" y="209" width="1" height="7" fill="#ff4500"/>
<rect x="817" y="178" width="1" height="36" fill="#ff0000"/>
<rect x="816" y="189" width="3" height="20" fill="#ff0000"/>
<rect x="817" y="190" width="1" height="18" fill="#ff4500"/>
<rect x="821" y="154" width="1" height="37" fill="#ff0000"/>
<rect x="820" y="157" width="3" height="32" fill="#ff0000"/>
<rect x="821" y="158" width="1" height="30" fill="#ff4500"/>
<rect x="825" y="136" width="1" height="27" fill="#ff0000"/>
<rect x="824" y="150" width="3" height="8" fill="#ff0000"/>
<rect x="825" y="151" width="1" height="6" fill="#ff4500"/>
<rect x="829" y="145" width="1" height="6" fill="#ff0000"/>
<rect x="828" y="145" width="3" height="5" fill="#ff0000"/>
<rect x="829" y="146" width="1" height="3" fill="#ff4500"/>
<rect x="833" y="136" width="1" height="15" fill="#ff0000"/>
<rect x="832" y="141" width="3" height="5" fill="#ff0000"/>
<rect x="833" y="142" width="1" height="3" fill="#ff4500"/>
<rect x="837" y="140" width="1" height="40" fill="#32cd32"/>
<rect x="836" y="141" width="3" height="37" fill="#32cd32"/>
<rect x="841" y="157" width="1" height="23" fill="#ff0000"/>
<rect x="840" y="167" width="3" height="10" fill="#ff0000"/>
<rect x="841" y="168" width="1" height="8" fill="#ff4500"/>
<rect x="845" y="161" width="1" height="35" fill="#32cd32"/>
<rect x="844" y="167" width="3" height="24" fill="#32cd32"/>
<rect x="849" y="191" width="1" height="3" fill="#ff0000"/>
<rect x="848" y="191" width="3" height="3" fill="#ff0000"/>
<rect x="849" y="192" width="1" height="1" fill="#ff4500"/>
<rect x="853" y="180" width="1" height="24" fill="#ff0000"/>
<rect x="852" y="187" width="3" height="5" fill="#ff0000"/>
<rect x="853" y="188" width="1" height="3" fill="#ff4500"/>
<rect x="857" y="187" width="1" height="30" fill="#32cd32"/>
<rect x="856" y="187" width="3" height="28" fill="#32cd32"/>
<rect x="861" y="175" width="1" height="41" fill="#ff0000"/>
<rect x="860" y="194" width="3" height="21" fill="#ff0000"/>
<rect x="861" y="195" width="1" height="19" fill="#ff4500"/>
<rect x="865" y="168" width="1" height="29" fill="#ff0000"/>
<rect x="864" y="178" width="3" height="16" fill="#ff0000"/>
<rect x="865" y="179" width="1" height="14" fill="#ff4500"/>
<rect x="869" y="165" width="1" height="28" fill="#32cd32"/>
<rect x="868" y="178" width="3" height="8" fill="#32cd32"/>
<rect x="873" y="182" width="1" height="3" fill="#ff0000"/>
<rect x="872" y="182" width="3" height="3" fill="#ff0000"/>
<rect x="873" y="183" width="1" height="1" fill="#ff4500"/>
<rect x="877" y="175" width="1" height="18" fill="#32cd32"/>
<rect x="876" y="181" width="3" height="1" fill="#32cd32"/>
<rect x="881" y="164" width="1" height="20" fill="#ff0000"/>
<rect x="880" y="176" width="3" height="6" fill="#ff0000"/>
<rect x="881" y="177" width="1" height="4" fill="#ff4500"/>
<rect x="885" y="162" width="1" height="26" fill="#ff0000"/>
<rect x="884" y="163" width="3" height="13" fill="#ff0000"/>
<rect x="885" y="164" width="1" height="11" fill="#ff4500"/>
<rect x="889" y="146" width="1" height="27" fill="#ff0000"/>
<rect x="888" y="149" width="3" height="15" fill="#ff0000"/>
<rect x="889" y="150" width="1" height="13" fill="#ff4500"/>
<rect x="893" y="133" width="1" height="31" fill="#32cd32"/>
<rect x="892" y="149" width="3" height="6" fill="#32cd32"/>
<rect x="897" y="159" width="1" height="2" fill="#32cd32"/>
<rect x="896" y="159" width="3" height="2" fill="#32cd32"/>
<rect x="901" y="147" width="1" height="24" fill="#ff0000"/>
<rect x="900" y="151" width="3" height="10" fill="#ff0000"/>
<rect x="901" y="152" width="1" height="8" fill="#ff4500"/>
<rect x="905" y="135" width="1" height="32" fill="#32cd32"/>
<rect x="904" y="151" width="3" height="10" fill="#32cd32"/>
<rect x="909" y="147" width="1" height="25" fill="#ff0000"/>
<rect x="908" y="159" width="3" height="1" fill="#ff0000"/>
<rect x="913" y="151" width="1" height="49" fill="#32cd32"/>
<rect x="912" y="159" width="3" height="31" fill="#32cd32"/>
<rect x="917" y="187" width="1" height="33" fill="#32cd32"/>
<rect x="916" y="189" width="3" height="20" fill="#32cd32"/>
<rect x="921" y="202" width="1" height="4" fill="#32cd32"/>
<rect x="920" y="202" width="3" height="4" fill="#32cd32"/>
<rect x="925" y="200" width="1" height="6" fill="#ff0000"/>
<rect x="924" y="202" width="3" height="4" fill="#ff0000"/>
<rect x="925" y="203" width="1" height="2" fill="#ff4500"/>
<rect x="4" y="25" width="1164" height="1" fill="#000000"/>
<rect x="4" y="391" width="1164" height="1" fill="#000000"/>
<rect x="4" y="393" width="1164" height="1" fill="#000000"/>
<rect x="4" y="460" width="1164" height="1" fill="#000000"/>
<rect x="4" y="462" width="1164" height="1" fill="#000000"/>
<rect x="4" y="531" width="1164" height="1" fill="#000000"/>
<rect x="1168" y="395" width="1" height="1" fill="#000000"/>
<rect x="1168" y="459" width="1" height="1" fill="#000000"/>
<rect x="1168" y="464" width="1" height="1" fill="#000000"/>
<rect x="1168" y="530" width="1" height="1" fill="#000000"/>
<rect x="4" y="25" width="1" height="367" fill="#000000"/>
<rect x="4" y="393" width="1" height="68" fill="#000000"/>
<rect x="4" y="462" width="1" height="70" fill="#000000"/>
<rect x="1167" y="25" width="1" height="367" fill="#000000"/>
<rect x="1167" y="393" width="1" height="68" fill="#000000"/>
<rect x="1167" y="462" width="1" height="70" fill="#000000"/>
<rect x="4" y="130" width="6" height="6" fill="#ff0000"/>
<rect x="6" y="132" width="2" height="2" fill="#fff"/>
<rect x="1161" y="130" width="6" height="6" fill="#ff0000"/>
<rect x="1163" y="132" width="2" height="2" fill="#fff"/>
<rect x="4" y="226" width="6" height="6" fill="#0000ff"/>
<rect x="6" y="228" width="2" height="2" fill="#fff"/>
<rect x="1161" y="226" width="6" height="6" fill="#0000ff"/>
<rect x="1163" y="228" width="2" height="2" fill="#fff"/>
<rect x="1168" y="58" width="2" height="1" fill="#000000"/>
<text x="1173" y="62" font-size="9.8" fill="#000000" stroke="#000000" stroke-width="0.18" textLength="32.8" lengthAdjust="spacingAndGlyphs">0.99900</text>
<rect x="1168" y="91" width="2" height="1" fill="#000000"/>
<text x="1173" y="95" font-size="9.8" fill="#000000" stroke="#000000" stroke-width="0.18" textLength="32.8" lengthAdjust="spacingAndGlyphs">0.99080</text>
<rect x="1168" y="124" width="2" height="1" fill="#000000"/>
<text x="1173" y="128" font-size="9.8" fill="#000000" stroke="#000000" stroke-width="0.18" textLength="32.8" lengthAdjust="spacingAndGlyphs">0.98260</text>
<rect x="1168" y="157" width="2" height="1" fill="#000000"/>
<text x="1173" y="161" font-size="9.8" fill="#000000" stroke="#000000" stroke-width="0.18" textLength="32.8" lengthAdjust="spacingAndGlyphs">0.97420</text>
<rect x="1168" y="190" width="2" height="1" fill="#000000"/>
<text x="1173" y="194" font-size="9.8" fill="#000000" stroke="#000000" stroke-width="0.18" textLength="32.8" lengthAdjust="spacingAndGlyphs">0.96600</text>
<rect x="1168" y="223" width="2" height="1" fill="#000000"/>
<text x="1173" y="227" font-size="9.8" fill="#000000" stroke="#000000" stroke-width="0.18" textLength="32.8" lengthAdjust="spacingAndGlyphs">0.95780</text>
<rect x="1168" y="256" width="2" height="1" fill="#000000"/>
<text x="1173" y="260" font-size="9.8" fill="#000000" stroke="#000000" stroke-width="0.18" textLength="32.8" lengthAdjust="spacingAndGlyphs">0.94960</text>
<rect x="1168" y="289" width="2" height="1" fill="#000000"/>
<text x="1173" y="293" font-size="9.8" fill="#000000" stroke="#000000" stroke-width="0.18" textLength="32.8" lengthAdjust="spacingAndGlyphs">0.94140</text>
<rect x="1168" y="322" width="2" height="1" fill="#000000"/>
<text x="1173" y="326" font-size="9.8" fill="#000000" stroke="#000000" stroke-width="0.18" textLength="32.8" lengthAdjust="spacingAndGlyphs">0.93300</text>
<rect x="1168" y="355" width="2" height="1" fill="#000000"/>
<text x="1173" y="359" font-size="9.8" fill="#000000" stroke="#000000" stroke-width="0.18" textLength="32.8" lengthAdjust="spacingAndGlyphs">0.92480</text>
<rect x="1168" y="388" width="2" height="1" fill="#000000"/>
<text x="1173" y="392" font-size="9.8" fill="#000000" stroke="#000000" stroke-width="0.18" textLength="32.8" lengthAdjust="spacingAndGlyphs">0.91660</text>
<rect x="1169" y="87" width="41" height="11" fill="#ff0000"/>
<text x="1173" y="96" font-size="9.8" fill="#fff" stroke="#fff" stroke-width="0.18" textLength="32.8" lengthAdjust="spacingAndGlyphs">0.99021</text>
<rect x="1169" y="127" width="41" height="11" fill="#ff0000"/>
<text x="1173" y="136" font-size="9.8" fill="#fff" stroke="#fff" stroke-width="0.18" textLength="32.8" lengthAdjust="spacingAndGlyphs">0.98030</text>
<rect x="1169" y="176" width="41" height="11" fill="#00ff00"/>
<text x="1173" y="185" font-size="9.8" fill="#fff" stroke="#fff" stroke-width="0.18" textLength="32.8" lengthAdjust="spacingAndGlyphs">0.96805</text>
<rect x="1169" y="223" width="41" height="11" fill="#0000ff"/>
<text x="1173" y="232" font-size="9.8" fill="#fff" stroke="#fff" stroke-width="0.18" textLength="32.8" lengthAdjust="spacingAndGlyphs">0.95643</text>
<rect x="1169" y="272" width="41" height="11" fill="#0000ff"/>
<text x="1173" y="281" font-size="9.8" fill="#fff" stroke="#fff" stroke-width="0.18" textLength="32.8" lengthAdjust="spacingAndGlyphs">0.94418</text>
<rect x="1169" y="328" width="41" height="11" fill="#0000ff"/>
<text x="1173" y="337" font-size="9.8" fill="#fff" stroke="#fff" stroke-width="0.18" textLength="32.8" lengthAdjust="spacingAndGlyphs">0.93003</text>
<rect x="1169" y="197" width="41" height="11" fill="#000000"/>
<text x="1173" y="206" font-size="9.8" fill="#fff" stroke="#fff" stroke-width="0.18" textLength="32.8" lengthAdjust="spacingAndGlyphs">0.96314</text>
<rect x="4" y="416" width="3" height="12" fill="#c0c0c0"/>
<rect x="8" y="416" width="3" height="14" fill="#c0c0c0"/>
<rect x="12" y="416" width="3" height="16" fill="#c0c0c0"/>
<rect x="16" y="416" width="3" height="17" fill="#c0c0c0"/>
<rect x="20" y="416" width="3" height="16" fill="#c0c0c0"/>
<rect x="24" y="416" width="3" height="16" fill="#c0c0c0"/>
<rect x="28" y="416" width="3" height="15" fill="#c0c0c0"/>
<rect x="32" y="416" width="3" height="13" fill="#c0c0c0"/>
<rect x="36" y="416" width="3" height="12" fill="#c0c0c0"/>
<rect x="40" y="416" width="3" height="10" fill="#c0c0c0"/>
<rect x="44" y="416" width="3" height="8" fill="#c0c0c0"/>
<rect x="48" y="416" width="3" height="7" fill="#c0c0c0"/>
<rect x="52" y="416" width="3" height="5" fill="#c0c0c0"/>
<rect x="56" y="416" width="3" height="6" fill="#c0c0c0"/>
<rect x="60" y="416" width="3" height="6" fill="#c0c0c0"/>
<rect x="64" y="416" width="3" height="6" fill="#c0c0c0"/>
<rect x="68" y="416" width="3" height="5" fill="#c0c0c0"/>
<rect x="72" y="416" width="3" height="4" fill="#c0c0c0"/>
<rect x="76" y="416" width="3" height="1" fill="#c0c0c0"/>
<rect x="80" y="413" width="3" height="3" fill="#c0c0c0"/>
<rect x="84" y="411" width="3" height="5" fill="#c0c0c0"/>
<rect x="88" y="409" width="3" height="7" fill="#c0c0c0"/>
<rect x="92" y="409" width="3" height="7" fill="#c0c0c0"/>
<rect x="96" y="410" width="3" height="6" fill="#c0c0c0"/>
<rect x="100" y="410" width="3" height="6" fill="#c0c0c0"/>
<rect x="104" y="409" width="3" height="7" fill="#c0c0c0"/>
<rect x="108" y="409" width="3" height="7" fill="#c0c0c0"/>
<rect x="112" y="407" width="3" height="9" fill="#c0c0c0"/>
<rect x="116" y="406" width="3" height="10" fill="#c0c0c0"/>
<rect x="120" y="405" width="3" height="11" fill="#c0c0c0"/>
<rect x="124" y="405" width="3" height="11" fill="#c0c0c0"/>
<rect x="128" y="405" width="3" height="11" fill="#c0c0c0"/>
<rect x="132" y="406" width="3" height="10" fill="#c0c0c0"/>
<rect x="136" y="406" width="3" height="10" fill="#c0c0c0"/>
<rect x="140" y="406" width="3" height="10" fill="#c0c0c0"/>
<rect x="144" y="406" width="3" height="10" fill="#c0c0c0"/>
<rect x="148" y="406" width="3" height="10" fill="#c0c0c0"/>
<rect x="152" y="406" width="3" height="10" fill="#c0c0c0"/>
<rect x="156" y="407" width="3" height="9" fill="#c0c0c0"/>
<rect x="160" y="407" width="3" height="9" fill="#c0c0c0"/>
<rect x="164" y="409" width="3" height="7" fill="#c0c0c0"/>
<rect x="168" y="410" width="3" height="6" fill="#c0c0c0"/>
<rect x="172" y="409" width="3" height="7" fill="#c0c0c0"/>
<rect x="176" y="410" width="3" height="6" fill="#c0c0c0"/>
<rect x="180" y="410" width="3" height="6" fill="#c0c0c0"/>
<rect x="184" y="409" width="3" height="7" fill="#c0c0c0"/>
<rect x="188" y="410" width="3" height="6" fill="#c0c0c0"/>
<rect x="192" y="408" width="3" height="8" fill="#c0c0c0"/>
<rect x="196" y="407" width="3" height="9" fill="#c0c0c0"/>
<rect x="200" y="407" width="3" height="9" fill="#c0c0c0"/>
<rect x="204" y="408" width="3" height="8" fill="#c0c0c0"/>
<rect x="208" y="409" width="3" height="7" fill="#c0c0c0"/>
<rect x="212" y="409" width="3" height="7" fill="#c0c0c0"/>
<rect x="216" y="410" width="3" height="6" fill="#c0c0c0"/>
<rect x="220" y="410" width="3" height="6" fill="#c0c0c0"/>
<rect x="224" y="409" width="3" height="7" fill="#c0c0c0"/>
<rect x="228" y="408" width="3" height="8" fill="#c0c0c0"/>
<rect x="232" y="408" width="3" height="8" fill="#c0c0c0"/>
<rect x="236" y="408" width="3" height="8" fill="#c0c0c0"/>
<rect x="240" y="409" width="3" height="7" fill="#c0c0c0"/>
<rect x="244" y="412" width="3" height="4" fill="#c0c0c0"/>
<rect x="248" y="415" width="3" height="1" fill="#c0c0c0"/>
<rect x="252" y="416" width="3" height="2" fill="#c0c0c0"/>
<rect x="256" y="416" width="3" height="4" fill="#c0c0c0"/>
<rect x="260" y="416" width="3" height="4" fill="#c0c0c0"/>
<rect x="264" y="416" width="3" height="4" fill="#c0c0c0"/>
<rect x="268" y="416" width="3" height="3" fill="#c0c0c0"/>
<rect x="272" y="416" width="3" height="2" fill="#c0c0c0"/>
<rect x="276" y="416" width="3" height="1" fill="#c0c0c0"/>
<rect x="280" y="415" width="3" height="1" fill="#c0c0c0"/>
<rect x="284" y="415" width="3" height="1" fill="#c0c0c0"/>
<rect x="288" y="416" width="3" height="1" fill="#c0c0c0"/>
<rect x="292" y="416" width="3" height="2" fill="#c0c0c0"/>
<rect x="296" y="416" width="3" height="4" fill="#c0c0c0"/>
<rect x="300" y="416" width="3" height="5" fill="#c0c0c0"/>
<rect x="304" y="416" width="3" height="5" fill="#c0c0c0"/>
<rect x="308" y="416" width="3" height="4" fill="#c0c0c0"/>
<rect x="312" y="416" width="3" height="3" fill="#c0c0c0"/>
<rect x="316" y="416" width="3" height="2" fill="#c0c0c0"/>
<rect x="320" y="415" width="3" height="1" fill="#c0c0c0"/>
<rect x="324" y="413" width="3" height="3" fill="#c0c0c0"/>
<rect x="328" y="413" width="3" height="3" fill="#c0c0c0"/>
<rect x="332" y="413" width="3" height="3" fill="#c0c0c0"/>
<rect x="336" y="415" width="3" height="1" fill="#c0c0c0"/>
<rect x="340" y="416" width="3" height="1" fill="#c0c0c0"/>
<rect x="344" y="416" width="3" height="1" fill="#c0c0c0"/>
<rect x="348" y="416" width="3" height="2" fill="#c0c0c0"/>
<rect x="352" y="416" width="3" height="2" fill="#c0c0c0"/>
<rect x="356" y="416" width="3" height="2" fill="#c0c0c0"/>
<rect x="360" y="416" width="3" height="1" fill="#c0c0c0"/>
<rect x="364" y="416" width="3" height="1" fill="#c0c0c0"/>
<rect x="368" y="415" width="3" height="1" fill="#c0c0c0"/>
<rect x="372" y="413" width="3" height="3" fill="#c0c0c0"/>
<rect x="376" y="412" width="3" height="4" fill="#c0c0c0"/>
<rect x="380" y="411" width="3" height="5" fill="#c0c0c0"/>
<rect x="384" y="410" width="3" height="6" fill="#c0c0c0"/>
<rect x="388" y="410" width="3" height="6" fill="#c0c0c0"/>
<rect x="392" y="409" width="3" height="7" fill="#c0c0c0"/>
<rect x="396" y="408" width="3" height="8" fill="#c0c0c0"/>
<rect x="400" y="410" width="3" height="6" fill="#c0c0c0"/>
<rect x="404" y="413" width="3" height="3" fill="#c0c0c0"/>
<rect x="408" y="415" width="3" height="1" fill="#c0c0c0"/>
<rect x="412" y="416" width="3" height="2" fill="#c0c0c0"/>
<rect x="416" y="416" width="3" height="3" fill="#c0c0c0"/>
<rect x="420" y="416" width="3" height="3" fill="#c0c0c0"/>
<rect x="424" y="416" width="3" height="4" fill="#c0c0c0"/>
<rect x="428" y="416" width="3" height="6" fill="#c0c0c0"/>
<rect x="432" y="416" width="3" height="8" fill="#c0c0c0"/>
<rect x="436" y="416" width="3" height="9" fill="#c0c0c0"/>
<rect x="440" y="416" width="3" height="9" fill="#c0c0c0"/>
<rect x="444" y="416" width="3" height="10" fill="#c0c0c0"/>
<rect x="448" y="416" width="3" height="10" fill="#c0c0c0"/>
<rect x="452" y="416" width="3" height="12" fill="#c0c0c0"/>
<rect x="456" y="416" width="3" height="13" fill="#c0c0c0"/>
<rect x="460" y="416" width="3" height="14" fill="#c0c0c0"/>
<rect x="464" y="416" width="3" height="13" fill="#c0c0c0"/>
<rect x="468" y="416" width="3" height="12" fill="#c0c0c0"/>
<rect x="472" y="416" width="3" height="11" fill="#c0c0c0"/>
<rect x="476" y="416" width="3" height="11" fill="#c0c0c0"/>
<rect x="480" y="416" width="3" height="11" fill="#c0c0c0"/>
<rect x="484" y="416" width="3" height="11" fill="#c0c0c0"/>
<rect x="488" y="416" width="3" height="13" fill="#c0c0c0"/>
<rect x="492" y="416" width="3" height="15" fill="#c0c0c0"/>
<rect x="496" y="416" width="3" height="17" fill="#c0c0c0"/>
<rect x="500" y="416" width="3" height="19" fill="#c0c0c0"/>
<rect x="504" y="416" width="3" height="20" fill="#c0c0c0"/>
<rect x="508" y="416" width="3" height="20" fill="#c0c0c0"/>
<rect x="512" y="416" width="3" height="19" fill="#c0c0c0"/>
<rect x="516" y="416" width="3" height="18" fill="#c0c0c0"/>
<rect x="520" y="416" width="3" height="19" fill="#c0c0c0"/>
<rect x="524" y="416" width="3" height="18" fill="#c0c0c0"/>
<rect x="528" y="416" width="3" height="18" fill="#c0c0c0"/>
<rect x="532" y="416" width="3" height="15" fill="#c0c0c0"/>
<rect x="536" y="416" width="3" height="14" fill="#c0c0c0"/>
<rect x="540" y="416" width="3" height="13" fill="#c0c0c0"/>
<rect x="544" y="416" width="3" height="13" fill="#c0c0c0"/>
<rect x="548" y="416" width="3" height="13" fill="#c0c0c0"/>
<rect x="552" y="416" width="3" height="14" fill="#c0c0c0"/>
<rect x="556" y="416" width="3" height="14" fill="#c0c0c0"/>
<rect x="560" y="416" width="3" height="14" fill="#c0c0c0"/>
<rect x="564" y="416" width="3" height="13" fill="#c0c0c0"/>
<rect x="568" y="416" width="3" height="13" fill="#c0c0c0"/>
<rect x="572" y="416" width="3" height="12" fill="#c0c0c0"/>
<rect x="576" y="416" width="3" height="12" fill="#c0c0c0"/>
<rect x="580" y="416" width="3" height="11" fill="#c0c0c0"/>
<rect x="584" y="416" width="3" height="10" fill="#c0c0c0"/>
<rect x="588" y="416" width="3" height="9" fill="#c0c0c0"/>
<rect x="592" y="416" width="3" height="8" fill="#c0c0c0"/>
<rect x="596" y="416" width="3" height="6" fill="#c0c0c0"/>
<rect x="600" y="416" width="3" height="5" fill="#c0c0c0"/>
<rect x="604" y="416" width="3" height="5" fill="#c0c0c0"/>
<rect x="608" y="416" width="3" height="7" fill="#c0c0c0"/>
<rect x="612" y="416" width="3" height="7" fill="#c0c0c0"/>
<rect x="616" y="416" width="3" height="8" fill="#c0c0c0"/>
<rect x="620" y="416" width="3" height="6" fill="#c0c0c0"/>
<rect x="624" y="416" width="3" height="5" fill="#c0c0c0"/>
<rect x="628" y="416" width="3" height="3" fill="#c0c0c0"/>
<rect x="632" y="416" width="3" height="1" fill="#c0c0c0"/>
<rect x="636" y="414" width="3" height="2" fill="#c0c0c0"/>
<rect x="640" y="413" width="3" height="3" fill="#c0c0c0"/>
<rect x="644" y="412" width="3" height="4" fill="#c0c0c0"/>
<rect x="648" y="411" width="3" height="5" fill="#c0c0c0"/>
<rect x="652" y="410" width="3" height="6" fill="#c0c0c0"/>
<rect x="656" y="408" width="3" height="8" fill="#c0c0c0"/>
<rect x="660" y="407" width="3" height="9" fill="#c0c0c0"/>
<rect x="664" y="406" width="3" height="10" fill="#c0c0c0"/>
<rect x="668" y="405" width="3" height="11" fill="#c0c0c0"/>
<rect x="672" y="404" width="3" height="12" fill="#c0c0c0"/>
<rect x="676" y="404" width="3" height="12" fill="#c0c0c0"/>
<rect x="680" y="405" width="3" height="11" fill="#c0c0c0"/>
<rect x="684" y="406" width="3" height="10" fill="#c0c0c0"/>
<rect x="688" y="407" width="3" height="9" fill="#c0c0c0"/>
<rect x="692" y="409" width="3" height="7" fill="#c0c0c0"/>
<rect x="696" y="410" width="3" height="6" fill="#c0c0c0"/>
<rect x="700" y="413" width="3" height="3" fill="#c0c0c0"/>
<rect x="704" y="416" width="3" height="2" fill="#c0c0c0"/>
<rect x="708" y="416" width="3" height="5" fill="#c0c0c0"/>
<rect x="712" y="416" width="3" height="9" fill="#c0c0c0"/>
<rect x="716" y="416" width="3" height="13" fill="#c0c0c0"/>
<rect x="720" y="416" width="3" height="16" fill="#c0c0c0"/>
<rect x="724" y="416" width="3" height="21" fill="#c0c0c0"/>
<rect x="728" y="416" width="3" height="28" fill="#c0c0c0"/>
<rect x="732" y="416" width="3" height="35" fill="#c0c0c0"/>
<rect x="736" y="416" width="3" height="40" fill="#c0c0c0"/>
<rect x="740" y="416" width="3" height="42" fill="#c0c0c0"/>
<rect x="744" y="416" width="3" height="41" fill="#c0c0c0"/>
<rect x="748" y="416" width="3" height="39" fill="#c0c0c0"/>
<rect x="752" y="416" width="3" height="34" fill="#c0c0c0"/>
<rect x="756" y="416" width="3" height="32" fill="#c0c0c0"/>
<rect x="760" y="416" width="3" height="30" fill="#c0c0c0"/>
<rect x="764" y="416" width="3" height="24" fill="#c0c0c0"/>
<rect x="768" y="416" width="3" height="17" fill="#c0c0c0"/>
<rect x="772" y="416" width="3" height="5" fill="#c0c0c0"/>
<rect x="776" y="410" width="3" height="6" fill="#c0c0c0"/>
<rect x="780" y="404" width="3" height="12" fill="#c0c0c0"/>
<rect x="784" y="400" width="3" height="16" fill="#c0c0c0"/>
<rect x="788" y="398" width="3" height="18" fill="#c0c0c0"/>
<rect x="792" y="397" width="3" height="19" fill="#c0c0c0"/>
<rect x="796" y="402" width="3" height="14" fill="#c0c0c0"/>
<rect x="800" y="409" width="3" height="7" fill="#c0c0c0"/>
<rect x="804" y="413" width="3" height="3" fill="#c0c0c0"/>
<rect x="808" y="415" width="3" height="1" fill="#c0c0c0"/>
<rect x="812" y="416" width="3" height="1" fill="#c0c0c0"/>
<rect x="816" y="415" width="3" height="1" fill="#c0c0c0"/>
<rect x="820" y="412" width="3" height="4" fill="#c0c0c0"/>
<rect x="824" y="411" width="3" height="5" fill="#c0c0c0"/>
<rect x="828" y="407" width="3" height="9" fill="#c0c0c0"/>
<rect x="832" y="404" width="3" height="12" fill="#c0c0c0"/>
<rect x="836" y="406" width="3" height="10" fill="#c0c0c0"/>
<rect x="840" y="406" width="3" height="10" fill="#c0c0c0"/>
<rect x="844" y="408" width="3" height="8" fill="#c0c0c0"/>
<rect x="848" y="409" width="3" height="7" fill="#c0c0c0"/>
<rect x="852" y="411" width="3" height="5" fill="#c0c0c0"/>
<rect x="856" y="414" width="3" height="2" fill="#c0c0c0"/>
<rect x="860" y="414" width="3" height="2" fill="#c0c0c0"/>
<rect x="864" y="414" width="3" height="2" fill="#c0c0c0"/>
<rect x="868" y="414" width="3" height="2" fill="#c0c0c0"/>
<rect x="872" y="414" width="3" height="2" fill="#c0c0c0"/>
<rect x="876" y="414" width="3" height="2" fill="#c0c0c0"/>
<rect x="880" y="413" width="3" height="3" fill="#c0c0c0"/>
<rect x="884" y="412" width="3" height="4" fill="#c0c0c0"/>
<rect x="888" y="410" width="3" height="6" fill="#c0c0c0"/>
<rect x="892" y="409" width="3" height="7" fill="#c0c0c0"/>
<rect x="896" y="409" width="3" height="7" fill="#c0c0c0"/>
<rect x="900" y="408" width="3" height="8" fill="#c0c0c0"/>
<rect x="904" y="408" width="3" height="8" fill="#c0c0c0"/>
<rect x="908" y="408" width="3" height="8" fill="#c0c0c0"/>
<rect x="912" y="411" width="3" height="5" fill="#c0c0c0"/>
<rect x="916" y="414" width="3" height="2" fill="#c0c0c0"/>
<rect x="920" y="416" width="3" height="1" fill="#c0c0c0"/>
<rect x="924" y="416" width="3" height="3" fill="#c0c0c0"/>
<path d="M805 405.5h10M136 406.5h32M683 406.5h18M803 406.5h2M815 406.5h2M128 407.5h8M168 407.5h14M681 407.5h2M701 407.5h3M802 407.5h1M817 407.5h3M120 408.5h8M182 408.5h4M207 408.5h21M672 408.5h9M704 408.5h3M800 408.5h2M820 408.5h2M846 408.5h14M114 409.5h6M186 409.5h21M228 409.5h20M669 409.5h3M707 409.5h3M799 409.5h1M822 409.5h3M843 409.5h3M860 409.5h4M110 410.5h4M248 410.5h5M666 410.5h3M710 410.5h2M798 410.5h1M825 410.5h2M839 410.5h4M864 410.5h4M907 410.5h17M106 411.5h4M253 411.5h5M399 411.5h13M663 411.5h3M712 411.5h2M797 411.5h1M827 411.5h12M868 411.5h4M903 411.5h5M924 411.5h1M103 412.5h3M258 412.5h2M395 412.5h4M412 412.5h10M660 412.5h3M714 412.5h1M796 412.5h1M872 412.5h8M895 412.5h8M101 413.5h2M260 413.5h3M392 413.5h3M422 413.5h3M657 413.5h3M715 413.5h2M795 413.5h1M880 413.5h15M97 414.5h4M263 414.5h5M383 414.5h9M425 414.5h2M654 414.5h3M717 414.5h1M794 414.5h1M93 415.5h4M268 415.5h5M338 415.5h22M380 415.5h3M427 415.5h3M651 415.5h3M718 415.5h2M793 415.5h1M88 416.5h5M273 416.5h2M330 416.5h8M360 416.5h20M430 416.5h2M649 416.5h2M720 416.5h1M792 416.5h1M83 417.5h5M275 417.5h33M328 417.5h2M432 417.5h3M645 417.5h4M721 417.5h1M792 417.5h1M5 418.5h1M81 418.5h2M308 418.5h20M435 418.5h2M640 418.5h5M722 418.5h2M791 418.5h1M6 419.5h2M78 419.5h3M437 419.5h2M636 419.5h4M724 419.5h1M790 419.5h1M8 420.5h2M76 420.5h2M439 420.5h4M632 420.5h4M725 420.5h1M789 420.5h1M10 421.5h2M72 421.5h4M443 421.5h5M628 421.5h4M726 421.5h1M789 421.5h1M12 422.5h1M67 422.5h5M448 422.5h5M612 422.5h16M727 422.5h1M788 422.5h1M13 423.5h2M62 423.5h5M453 423.5h4M606 423.5h6M728 423.5h1M788 423.5h1M15 424.5h2M58 424.5h4M457 424.5h4M602 424.5h4M729 424.5h1M787 424.5h1M17 425.5h2M54 425.5h4M461 425.5h4M599 425.5h3M730 425.5h1M786 425.5h1M19 426.5h2M52 426.5h2M465 426.5h5M595 426.5h4M731 426.5h1M785 426.5h1M21 427.5h2M49 427.5h3M470 427.5h18M582 427.5h13M732 427.5h1M785 427.5h1M23 428.5h3M47 428.5h2M488 428.5h13M571 428.5h11M733 428.5h1M784 428.5h1M26 429.5h8M41 429.5h6M501 429.5h2M563 429.5h8M733 429.5h1M783 429.5h1M34 430.5h7M503 430.5h4M547 430.5h16M734 430.5h1M782 430.5h1M507 431.5h10M542 431.5h5M735 431.5h1M782 431.5h1M517 432.5h2M538 432.5h4M736 432.5h1M781 432.5h1M519 433.5h9M533 433.5h5M737 433.5h1M781 433.5h1M528 434.5h5M738 434.5h1M780 434.5h1M739 435.5h1M780 435.5h1M739 436.5h1M779 436.5h1M740 437.5h1M778 437.5h1M741 438.5h1M778 438.5h1M742 439.5h1M777 439.5h1M743 440.5h1M777 440.5h1M744 441.5h1M776 441.5h1M745 442.5h1M775 442.5h1M746 443.5h2M774 443.5h1M748 444.5h1M773 444.5h1M749 445.5h1M772 445.5h1M750 446.5h1M770 446.5h2M751 447.5h1M769 447.5h1M752 448.5h1M767 448.5h2M753 449.5h2M765 449.5h2M755 450.5h4M763 450.5h2M759 451.5h4" fill="none" stroke="#ff0000" stroke-width="1"/>
<text x="9" y="406" font-size="9.8" fill="#000000" stroke="#000000" stroke-width="0.18" textLength="150.5" lengthAdjust="spacingAndGlyphs">MACD(12,26,9) -0.000478 0.001311</text>
<rect x="1168" y="416" width="2" height="1" fill="#000000"/>
<text x="1171" y="404" font-size="9.8" fill="#000000" stroke="#000000" stroke-width="0.18" textLength="38.0" lengthAdjust="spacingAndGlyphs">0.005744</text>
<text x="1171" y="420" font-size="9.8" fill="#000000" stroke="#000000" stroke-width="0.18" textLength="18.0" lengthAdjust="spacingAndGlyphs">0.00</text>
<text x="1171" y="458" font-size="9.8" fill="#000000" stroke="#000000" stroke-width="0.18" textLength="41.5" lengthAdjust="spacingAndGlyphs">-0.011738</text>
<line x1="6" x2="1167" y1="484.5" y2="484.5" stroke="#c0c0c0" stroke-width="1" stroke-dasharray="3 3"/>
<line x1="6" x2="1167" y1="510.5" y2="510.5" stroke="#c0c0c0" stroke-width="1" stroke-dasharray="3 3"/>
<path d="M671 485.5h7M773 485.5h5M657 486.5h5M668 486.5h3M677 486.5h1M772 486.5h1M778 486.5h2M392 487.5h6M655 487.5h2M662 487.5h2M666 487.5h2M678 487.5h1M772 487.5h1M780 487.5h2M384 488.5h3M390 488.5h2M397 488.5h1M654 488.5h1M664 488.5h2M678 488.5h1M771 488.5h1M782 488.5h2M81 489.5h1M145 489.5h1M369 489.5h6M382 489.5h2M387 489.5h3M398 489.5h1M651 489.5h3M679 489.5h1M771 489.5h1M784 489.5h3M80 490.5h1M82 490.5h2M87 490.5h3M113 490.5h2M119 490.5h3M143 490.5h2M146 490.5h1M185 490.5h1M320 490.5h6M368 490.5h1M375 490.5h7M398 490.5h1M632 490.5h10M648 490.5h3M679 490.5h1M770 490.5h1M787 490.5h4M79 491.5h1M84 491.5h3M90 491.5h1M111 491.5h2M115 491.5h4M122 491.5h1M142 491.5h1M147 491.5h1M184 491.5h1M186 491.5h1M195 491.5h3M227 491.5h4M235 491.5h3M318 491.5h2M326 491.5h1M368 491.5h1M398 491.5h1M630 491.5h2M642 491.5h2M646 491.5h2M679 491.5h1M770 491.5h1M791 491.5h3M831 491.5h3M888 491.5h3M78 492.5h1M91 492.5h2M110 492.5h1M123 492.5h2M127 492.5h3M137 492.5h5M148 492.5h1M183 492.5h1M187 492.5h1M193 492.5h2M198 492.5h1M223 492.5h4M231 492.5h4M238 492.5h1M317 492.5h1M326 492.5h1M367 492.5h1M399 492.5h1M627 492.5h3M644 492.5h2M680 492.5h1M769 492.5h1M794 492.5h1M823 492.5h8M834 492.5h1M886 492.5h2M891 492.5h3M900 492.5h2M77 493.5h1M93 493.5h1M103 493.5h7M125 493.5h2M130 493.5h1M136 493.5h1M149 493.5h2M172 493.5h2M183 493.5h1M187 493.5h1M191 493.5h2M199 493.5h2M221 493.5h2M239 493.5h1M315 493.5h2M327 493.5h1M366 493.5h1M399 493.5h1M625 493.5h2M680 493.5h1M687 493.5h3M767 493.5h2M794 493.5h1M821 493.5h2M835 493.5h1M884 493.5h2M894 493.5h2M898 493.5h2M902 493.5h2M51 494.5h3M75 494.5h2M94 494.5h1M101 494.5h2M131 494.5h1M135 494.5h1M151 494.5h7M170 494.5h2M174 494.5h1M182 494.5h1M188 494.5h1M190 494.5h1M201 494.5h2M207 494.5h3M219 494.5h2M239 494.5h1M272 494.5h11M314 494.5h1M328 494.5h1M366 494.5h1M399 494.5h1M599 494.5h3M624 494.5h1M681 494.5h1M683 494.5h4M690 494.5h1M766 494.5h1M795 494.5h1M819 494.5h2M835 494.5h1M882 494.5h2M896 494.5h2M904 494.5h6M49 495.5h2M54 495.5h1M74 495.5h1M95 495.5h1M100 495.5h1M132 495.5h1M134 495.5h1M158 495.5h2M169 495.5h1M175 495.5h2M179 495.5h3M189 495.5h1M203 495.5h4M210 495.5h2M218 495.5h1M240 495.5h1M270 495.5h2M283 495.5h3M309 495.5h5M328 495.5h1M365 495.5h1M399 495.5h1M597 495.5h2M602 495.5h1M623 495.5h1M681 495.5h2M691 495.5h1M765 495.5h1M795 495.5h1M818 495.5h1M836 495.5h1M839 495.5h3M879 495.5h3M910 495.5h1M40 496.5h2M48 496.5h1M54 496.5h1M67 496.5h7M95 496.5h1M99 496.5h1M133 496.5h1M160 496.5h2M168 496.5h1M177 496.5h2M212 496.5h6M241 496.5h1M268 496.5h2M286 496.5h1M308 496.5h1M329 496.5h5M363 496.5h2M400 496.5h1M596 496.5h1M603 496.5h1M623 496.5h1M691 496.5h1M764 496.5h1M796 496.5h1M816 496.5h2M837 496.5h2M842 496.5h1M864 496.5h3M871 496.5h8M910 496.5h1M38 497.5h2M42 497.5h1M47 497.5h1M55 497.5h1M65 497.5h2M96 497.5h1M98 497.5h1M162 497.5h1M167 497.5h1M242 497.5h1M266 497.5h2M286 497.5h1M308 497.5h1M334 497.5h1M362 497.5h1M400 497.5h1M595 497.5h1M603 497.5h1M622 497.5h1M692 497.5h1M764 497.5h1M796 497.5h1M814 497.5h2M843 497.5h2M851 497.5h3M862 497.5h2M867 497.5h4M911 497.5h1M35 498.5h3M43 498.5h2M46 498.5h1M55 498.5h1M64 498.5h1M97 498.5h1M163 498.5h2M166 498.5h1M242 498.5h1M263 498.5h3M287 498.5h1M307 498.5h1M335 498.5h1M356 498.5h6M400 498.5h1M584 498.5h3M595 498.5h1M604 498.5h1M621 498.5h1M693 498.5h5M753 498.5h1M763 498.5h1M797 498.5h1M811 498.5h3M845 498.5h6M854 498.5h1M861 498.5h1M912 498.5h1M31 499.5h4M45 499.5h1M56 499.5h1M63 499.5h1M165 499.5h1M243 499.5h1M261 499.5h2M288 499.5h1M306 499.5h1M336 499.5h1M344 499.5h3M354 499.5h2M401 499.5h1M582 499.5h2M587 499.5h4M594 499.5h1M605 499.5h1M620 499.5h1M698 499.5h1M752 499.5h1M754 499.5h1M763 499.5h1M797 499.5h1M809 499.5h2M855 499.5h1M859 499.5h2M912 499.5h1M29 500.5h2M56 500.5h1M63 500.5h1M243 500.5h1M260 500.5h1M288 500.5h1M306 500.5h1M337 500.5h2M342 500.5h2M347 500.5h7M401 500.5h1M419 500.5h3M581 500.5h1M591 500.5h3M606 500.5h1M619 500.5h1M698 500.5h1M752 500.5h1M755 500.5h1M762 500.5h1M798 500.5h1M808 500.5h1M856 500.5h1M858 500.5h1M913 500.5h1M21 501.5h1M27 501.5h2M57 501.5h2M62 501.5h1M244 501.5h1M259 501.5h1M289 501.5h1M305 501.5h1M339 501.5h3M402 501.5h1M417 501.5h2M422 501.5h1M539 501.5h3M580 501.5h1M606 501.5h1M619 501.5h1M699 501.5h1M751 501.5h1M756 501.5h1M762 501.5h1M799 501.5h2M807 501.5h1M857 501.5h1M914 501.5h1M923 501.5h3M20 502.5h1M22 502.5h2M26 502.5h1M59 502.5h3M244 502.5h1M258 502.5h1M290 502.5h2M303 502.5h2M403 502.5h1M416 502.5h1M423 502.5h2M485 502.5h1M529 502.5h10M542 502.5h1M571 502.5h3M579 502.5h1M607 502.5h1M618 502.5h1M699 502.5h1M751 502.5h1M757 502.5h5M801 502.5h2M806 502.5h1M915 502.5h2M919 502.5h4M20 503.5h1M24 503.5h2M245 503.5h2M256 503.5h2M292 503.5h3M302 503.5h1M403 503.5h1M415 503.5h1M425 503.5h1M465 503.5h6M484 503.5h1M486 503.5h1M528 503.5h1M543 503.5h2M563 503.5h8M574 503.5h2M578 503.5h1M607 503.5h1M617 503.5h1M700 503.5h1M750 503.5h1M803 503.5h3M917 503.5h2M19 504.5h1M247 504.5h4M254 504.5h2M295 504.5h7M404 504.5h1M407 504.5h4M414 504.5h1M426 504.5h2M437 504.5h2M464 504.5h1M471 504.5h3M483 504.5h1M486 504.5h1M528 504.5h1M545 504.5h1M561 504.5h2M576 504.5h2M608 504.5h1M616 504.5h1M700 504.5h1M750 504.5h1M5 505.5h2M19 505.5h1M251 505.5h3M405 505.5h2M411 505.5h3M428 505.5h2M436 505.5h1M439 505.5h8M464 505.5h1M474 505.5h2M482 505.5h1M487 505.5h1M527 505.5h1M546 505.5h1M560 505.5h1M608 505.5h1M615 505.5h1M701 505.5h1M749 505.5h1M7 506.5h4M18 506.5h1M430 506.5h1M435 506.5h1M447 506.5h3M463 506.5h1M476 506.5h6M487 506.5h1M511 506.5h7M527 506.5h1M547 506.5h1M559 506.5h1M609 506.5h1M614 506.5h1M701 506.5h1M748 506.5h1M11 507.5h4M18 507.5h1M431 507.5h2M434 507.5h1M450 507.5h1M463 507.5h1M488 507.5h1M509 507.5h2M518 507.5h1M526 507.5h1M548 507.5h1M558 507.5h1M609 507.5h5M702 507.5h2M747 507.5h1M15 508.5h3M433 508.5h1M451 508.5h2M455 508.5h3M462 508.5h1M488 508.5h1M508 508.5h1M519 508.5h2M526 508.5h1M549 508.5h1M556 508.5h2M704 508.5h3M747 508.5h1M453 509.5h2M458 509.5h2M462 509.5h1M489 509.5h1M491 509.5h3M507 509.5h1M521 509.5h5M550 509.5h2M554 509.5h2M707 509.5h3M746 509.5h1M460 510.5h2M489 510.5h2M494 510.5h1M507 510.5h1M552 510.5h2M710 510.5h1M744 510.5h2M495 511.5h1M506 511.5h1M711 511.5h1M742 511.5h2M496 512.5h1M504 512.5h2M712 512.5h1M741 512.5h1M497 513.5h2M502 513.5h2M713 513.5h2M719 513.5h3M740 513.5h1M499 514.5h3M715 514.5h4M722 514.5h1M740 514.5h1M723 515.5h1M739 515.5h1M724 516.5h1M739 516.5h1M725 517.5h1M738 517.5h1M726 518.5h1M738 518.5h1M727 519.5h2M737 519.5h1M729 520.5h1M735 520.5h2M730 521.5h2M734 521.5h1M732 522.5h2" fill="none" stroke="#1e90ff" stroke-width="1"/>
<text x="9" y="475" font-size="9.8" fill="#000000" stroke="#000000" stroke-width="0.18" textLength="68.0" lengthAdjust="spacingAndGlyphs">RSI(14) 43.3674</text>
<text x="1171" y="473" font-size="9.8" fill="#000000" stroke="#000000" stroke-width="0.18" textLength="15.5" lengthAdjust="spacingAndGlyphs">100</text>
<text x="1170" y="488" font-size="9.8" fill="#000000" stroke="#000000" stroke-width="0.18" textLength="10.3" lengthAdjust="spacingAndGlyphs">70</text>
<text x="1170" y="514" font-size="9.8" fill="#000000" stroke="#000000" stroke-width="0.18" textLength="10.3" lengthAdjust="spacingAndGlyphs">30</text>
<text x="1171" y="528" font-size="9.8" fill="#000000" stroke="#000000" stroke-width="0.18" textLength="5.2" lengthAdjust="spacingAndGlyphs">0</text>
<rect x="5" y="532" width="1" height="3" fill="#000000"/>
<text x="3.8" y="544" font-size="9.8" fill="#000000" stroke="#000000" stroke-width="0.18" textLength="48.7" lengthAdjust="spacingAndGlyphs">8 Aug 2019</text>
<rect x="69" y="532" width="1" height="3" fill="#000000"/>
<text x="67.8" y="544" font-size="9.8" fill="#000000" stroke="#000000" stroke-width="0.18" textLength="53.6" lengthAdjust="spacingAndGlyphs">27 Aug 2019</text>
<rect x="133" y="532" width="1" height="3" fill="#000000"/>
<text x="131.8" y="544" font-size="9.8" fill="#000000" stroke="#000000" stroke-width="0.18" textLength="52.3" lengthAdjust="spacingAndGlyphs">15 Sep 2019</text>
<rect x="197" y="532" width="1" height="3" fill="#000000"/>
<text x="195.8" y="544" font-size="9.8" fill="#000000" stroke="#000000" stroke-width="0.18" textLength="46.5" lengthAdjust="spacingAndGlyphs">3 Oct 2019</text>
<rect x="261" y="532" width="1" height="3" fill="#000000"/>
<text x="259.8" y="544" font-size="9.8" fill="#000000" stroke="#000000" stroke-width="0.18" textLength="51.5" lengthAdjust="spacingAndGlyphs">22 Oct 2019</text>
<rect x="325" y="532" width="1" height="3" fill="#000000"/>
<text x="323.8" y="544" font-size="9.8" fill="#000000" stroke="#000000" stroke-width="0.18" textLength="54.2" lengthAdjust="spacingAndGlyphs">10 Nov 2019</text>
<rect x="389" y="532" width="1" height="3" fill="#000000"/>
<text x="387.8" y="544" font-size="9.8" fill="#000000" stroke="#000000" stroke-width="0.18" textLength="54.2" lengthAdjust="spacingAndGlyphs">28 Nov 2019</text>
<rect x="453" y="532" width="1" height="3" fill="#000000"/>
<text x="451.8" y="544" font-size="9.8" fill="#000000" stroke="#000000" stroke-width="0.18" textLength="51.5" lengthAdjust="spacingAndGlyphs">17 Dec 2019</text>
<rect x="517" y="532" width="1" height="3" fill="#000000"/>
<text x="515.8" y="544" font-size="9.8" fill="#000000" stroke="#000000" stroke-width="0.18" textLength="45.1" lengthAdjust="spacingAndGlyphs">5 Jan 2020</text>
<rect x="581" y="532" width="1" height="3" fill="#000000"/>
<text x="579.8" y="544" font-size="9.8" fill="#000000" stroke="#000000" stroke-width="0.18" textLength="50.1" lengthAdjust="spacingAndGlyphs">23 Jan 2020</text>
<rect x="645" y="532" width="1" height="3" fill="#000000"/>
<text x="643.8" y="544" font-size="9.8" fill="#000000" stroke="#000000" stroke-width="0.18" textLength="52.3" lengthAdjust="spacingAndGlyphs">11 Feb 2020</text>
<rect x="709" y="532" width="1" height="3" fill="#000000"/>
<text x="707.8" y="544" font-size="9.8" fill="#000000" stroke="#000000" stroke-width="0.18" textLength="46.8" lengthAdjust="spacingAndGlyphs">1 Mar 2020</text>
<rect x="773" y="532" width="1" height="3" fill="#000000"/>
<text x="771.8" y="544" font-size="9.8" fill="#000000" stroke="#000000" stroke-width="0.18" textLength="51.5" lengthAdjust="spacingAndGlyphs">19 Mar 2020</text>
<rect x="837" y="532" width="1" height="3" fill="#000000"/>
<text x="835.8" y="544" font-size="9.8" fill="#000000" stroke="#000000" stroke-width="0.18" textLength="45.9" lengthAdjust="spacingAndGlyphs">7 Apr 2020</text>
<rect x="901" y="532" width="1" height="3" fill="#000000"/>
<text x="899.8" y="544" font-size="9.8" fill="#000000" stroke="#000000" stroke-width="0.18" textLength="50.9" lengthAdjust="spacingAndGlyphs">27 Apr 2020</text>
<rect x="6" y="26" width="223" height="85" fill="#fff"/>
<rect x="11" y="32" width="1" height="1" fill="#000000"/>
<rect x="10" y="33" width="3" height="1" fill="#000000"/>
<rect x="9" y="34" width="5" height="1" fill="#000000"/>
<rect x="8" y="35" width="7" height="1" fill="#000000"/>
<text x="19.5" y="37" font-size="9.8" fill="#000000" stroke="#000000" stroke-width="0.18" textLength="69.0" lengthAdjust="spacingAndGlyphs">USDCHF-,Daily</text>
<text x="94" y="37" font-size="9.8" fill="#000000" stroke="#000000" stroke-width="0.18" textLength="141.8" lengthAdjust="spacingAndGlyphs">0.96242 0.96358 0.96242 0.96314</text>
</svg>
<!-- one click trading panel -->
<svg id="ocp" width="1210" height="120" viewBox="0 0 1210 120">
<defs>
<linearGradient id="pg" gradientUnits="userSpaceOnUse" x1="0" y1="45" x2="0" y2="109">
<stop offset="0" stop-color="#5656f6"/><stop offset="0.375" stop-color="#3333e0"/><stop offset="1" stop-color="#0505a8"/>
</linearGradient>
<linearGradient id="bg1" gradientUnits="userSpaceOnUse" x1="0" y1="47" x2="0" y2="65">
<stop offset="0" stop-color="#f1f1f1"/><stop offset="0.33" stop-color="#e7e7e7"/><stop offset="0.34" stop-color="#dadada"/><stop offset="1" stop-color="#d0d0d0"/>
</linearGradient>
</defs>
<g shape-rendering="crispEdges">
<!-- sell -->
<rect x="8" y="45" width="52" height="24" fill="#1414c4"/>
<rect x="9" y="46" width="50" height="23" fill="url(#pg)"/>
<rect x="8" y="69" width="109" height="40" fill="#0a0ab4"/>
<rect x="9" y="69" width="51" height="1" fill="url(#pg)"/>
<rect x="9" y="70" width="107" height="38" fill="url(#pg)"/>
<rect x="12" y="69" width="44" height="1" fill="#8484ea"/>
<!-- buy -->
<rect x="175" y="45" width="52" height="24" fill="#1414c4"/>
<rect x="176" y="46" width="50" height="23" fill="url(#pg)"/>
<rect x="119" y="69" width="108" height="40" fill="#0a0ab4"/>
<rect x="176" y="69" width="50" height="1" fill="url(#pg)"/>
<rect x="120" y="70" width="106" height="38" fill="url(#pg)"/>
<rect x="179" y="69" width="44" height="1" fill="#8484ea"/>
<!-- spin -->
<rect x="62" y="45" width="111" height="22" fill="#abadb3"/>
<rect x="63" y="46" width="109" height="20" fill="#fff"/>
<rect x="83" y="45" width="1" height="22" fill="#abadb3"/>
<rect x="151" y="45" width="1" height="22" fill="#abadb3"/>
<rect x="64" y="47" width="18" height="18" fill="url(#bg1)"/>
<rect x="153" y="47" width="18" height="18" fill="url(#bg1)"/>
<rect x="70" y="54" width="5" height="1" fill="#4e68c8"/><rect x="71" y="55" width="3" height="1" fill="#3f55a8"/><rect x="72" y="56" width="1" height="1" fill="#303f80"/>
<rect x="161" y="54" width="1" height="1" fill="#303f80"/><rect x="160" y="55" width="3" height="1" fill="#3f55a8"/><rect x="159" y="56" width="5" height="1" fill="#4e68c8"/>
</g>
<text x="20" y="60.8" font-size="12.5" fill="#fff" textLength="26.4" lengthAdjust="spacingAndGlyphs">SELL</text>
<text x="188.3" y="60.8" font-size="12.5" fill="#fff" textLength="23.6" lengthAdjust="spacingAndGlyphs">BUY</text>
<text x="116.8" y="59.2" font-size="12.4" fill="#000" textLength="31.4" lengthAdjust="spacingAndGlyphs">20.00</text>
<text x="27.5" y="99.3" font-size="12.5" font-weight="bold" fill="#fff" textLength="24.8" lengthAdjust="spacingAndGlyphs">0.96</text>
<text x="137.5" y="99.3" font-size="12.5" font-weight="bold" fill="#fff" textLength="24.8" lengthAdjust="spacingAndGlyphs">0.96</text>
<text x="55.5" y="100.2" font-size="35.2" fill="#fff" stroke="url(#pg)" stroke-width="0.6" textLength="35.2" lengthAdjust="spacingAndGlyphs">31</text>
<text x="166.8" y="100.2" font-size="35.2" fill="#fff" stroke="url(#pg)" stroke-width="0.6" textLength="35.6" lengthAdjust="spacingAndGlyphs">33</text>
<text x="95" y="83.4" font-size="12" font-weight="bold" fill="#fff" textLength="7.2" lengthAdjust="spacingAndGlyphs">4</text>
<text x="206" y="83.4" font-size="12" font-weight="bold" fill="#fff" textLength="7.2" lengthAdjust="spacingAndGlyphs">4</text>
</svg>
<!-- tab bar -->
<div class="abs" style="left:0;top:553px;width:1210px;height:1px;background:#fff"></div>
<div class="abs" style="left:0;top:554px;width:1210px;height:20px;background:#f0f0f0"></div>
<div class="abs" style="left:0;top:554px;width:1210px;height:1px;background:#000"></div>
<div class="abs" style="left:1px;top:555px;width:1px;height:19px;background:#8a8a8a"></div>
<div class="abs" style="left:282px;top:554px;width:106px;height:18px;background:#fff;border-left:1px solid #000;border-right:1px solid #000;border-bottom:1px solid #000;"></div>
<svg width="1210" height="574" viewBox="0 0 1210 574">
<text x="16.5" y="568" font-size="11.6" fill="#757575" textLength="85.9" lengthAdjust="spacingAndGlyphs">EURUSD-,Daily</text>
<text x="125.5" y="568" font-size="11.6" fill="#757575" textLength="68.8" lengthAdjust="spacingAndGlyphs">USDJPY-,H4</text>
<text x="218.0" y="568" font-size="11.6" fill="#757575" textLength="52.3" lengthAdjust="spacingAndGlyphs">DJ30-,H4</text>
<text x="293.8" y="568" font-size="11.6" fill="#000" textLength="84.6" lengthAdjust="spacingAndGlyphs">USDCHF-,Daily</text>
<text x="399.5" y="568" font-size="11.6" fill="#757575" textLength="55.3" lengthAdjust="spacingAndGlyphs">HK50-,H1</text>
<text x="475.5" y="568" font-size="11.6" fill="#757575" textLength="67.3" lengthAdjust="spacingAndGlyphs">GBPJPY-,H1</text>
<text x="565.2" y="568" font-size="11.6" fill="#757575" textLength="68.5" lengthAdjust="spacingAndGlyphs">CADJPY-,H1</text>
<text x="655.8" y="568" font-size="11.6" fill="#757575" textLength="71.1" lengthAdjust="spacingAndGlyphs">EURCHF-,H1</text>
<text x="747.2" y="568" font-size="11.6" fill="#757575" textLength="68.1" lengthAdjust="spacingAndGlyphs">JPN225-,H4</text>
<text x="837.5" y="568" font-size="11.6" fill="#757575" textLength="55.8" lengthAdjust="spacingAndGlyphs">USOil-,H1</text>
<text x="916.8" y="568" font-size="11.6" fill="#757575" textLength="86.6" lengthAdjust="spacingAndGlyphs">USDCAD-,Daily</text>
<text x="1025.8" y="568" font-size="11.6" fill="#757575" textLength="88.3" lengthAdjust="spacingAndGlyphs">USDCNH-,Daily</text>
<text x="1135.5" y="568" font-size="11.6" fill="#757575" textLength="86.3" lengthAdjust="spacingAndGlyphs">AUDUSD-,Daily</text>
<rect x="114" y="557" width="1" height="14" fill="#8c8c8c"/>
<rect x="206" y="557" width="1" height="14" fill="#8c8c8c"/>
<rect x="466" y="557" width="1" height="14" fill="#8c8c8c"/>
<rect x="554" y="557" width="1" height="14" fill="#8c8c8c"/>
<rect x="646" y="557" width="1" height="14" fill="#8c8c8c"/>
<rect x="738" y="557" width="1" height="14" fill="#8c8c8c"/>
<rect x="826" y="557" width="1" height="14" fill="#8c8c8c"/>
<rect x="906" y="557" width="1" height="14" fill="#8c8c8c"/>
<rect x="1014" y="557" width="1" height="14" fill="#8c8c8c"/>
<rect x="1126" y="557" width="1" height="14" fill="#8c8c8c"/>
<rect x="1178" y="555" width="32" height="19" fill="#f0f0f0"/>
<polygon points="1186,560 1186,566 1183,563" fill="#000"/>
<polygon points="1203,560 1203,566 1206,563" fill="#000"/>
</svg>
</body></html>
